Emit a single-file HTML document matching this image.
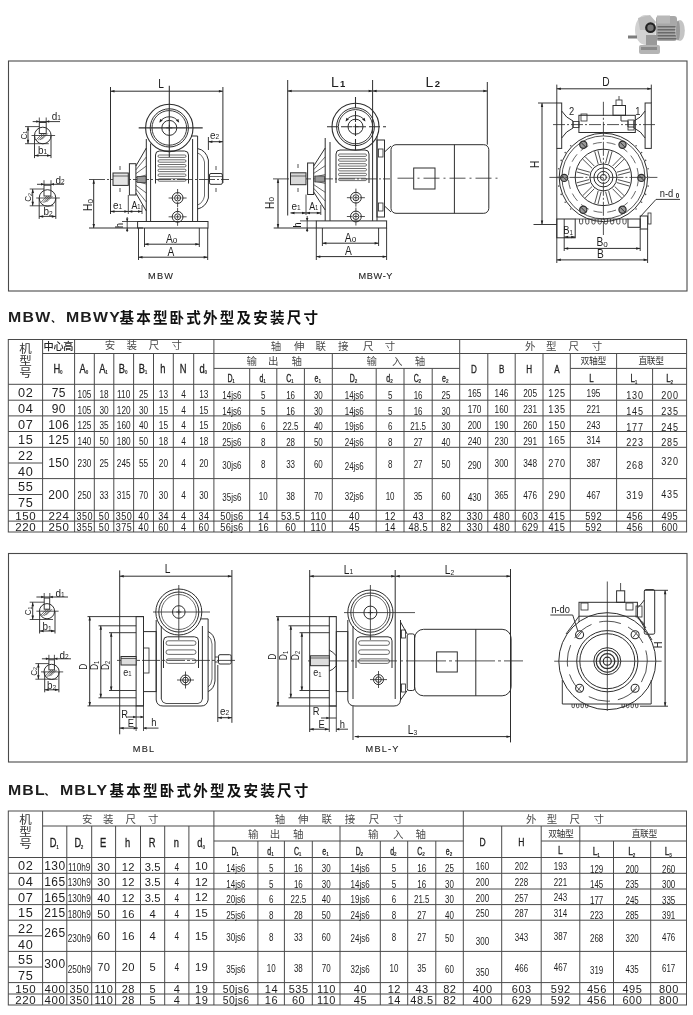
<!DOCTYPE html>
<html><head><meta charset="utf-8"><title>MBW MBL</title>
<style>
html,body{margin:0;padding:0;background:#fff}
svg{display:block;filter:blur(0.4px)}
text{font-family:"Liberation Sans","Noto Sans CJK SC",sans-serif;fill:#1e1e1e}
</style></head><body>
<svg width="693" height="1015" viewBox="0 0 693 1015">
<defs>
<filter id="blur1" x="-20%" y="-20%" width="140%" height="140%"><feGaussianBlur stdDeviation="0.7"/></filter>
</defs>
<rect width="693" height="1015" fill="#fff"/>
<rect x="8.5" y="61" width="678.5" height="230" fill="none" stroke="#4a4a4a" stroke-width="1.1"/>
<rect x="8.5" y="553.5" width="678.5" height="208.5" fill="none" stroke="#4a4a4a" stroke-width="1.1"/>
<text transform="translate(8.00,321.80) scale(1.15,1)" font-size="13.8" text-anchor="start" letter-spacing="1.1" font-weight="bold" fill="#111">MBW</text>
<text transform="translate(65.90,321.80) scale(1.15,1)" font-size="13.8" text-anchor="start" letter-spacing="1.1" font-weight="bold" fill="#111">MBWY</text>
<text x="119.40" y="322.75" font-size="14.6" font-weight="bold" letter-spacing="2.15" style="fill:#111">基本型卧式外型及安装尺寸</text>
<text x="51.00" y="322.00" font-size="10" font-weight="bold" style="fill:#111">、</text>
<text transform="translate(7.90,794.60) scale(1.15,1)" font-size="13.8" text-anchor="start" letter-spacing="1.1" font-weight="bold" fill="#111">MBL</text>
<text transform="translate(59.90,794.60) scale(1.15,1)" font-size="13.8" text-anchor="start" letter-spacing="1.1" font-weight="bold" fill="#111">MBLY</text>
<text x="109.60" y="795.55" font-size="14.6" font-weight="bold" letter-spacing="2.15" style="fill:#111">基本型卧式外型及安装尺寸</text>
<text x="44.50" y="794.80" font-size="10" font-weight="bold" style="fill:#111">、</text>
<rect x="8.3" y="339.5" width="678.3000000000001" height="192.5" fill="none" stroke="#4a4a4a" stroke-width="1"/>
<path d="M42.6 353.5H686.6" stroke="#4a4a4a" stroke-width="1" fill="none"/>
<path d="M213.9 368.4H459.7" stroke="#4a4a4a" stroke-width="1" fill="none"/>
<path d="M570.3 368.4H686.6" stroke="#4a4a4a" stroke-width="1" fill="none"/>
<path d="M8.3 384.3H686.6" stroke="#4a4a4a" stroke-width="1" fill="none"/>
<path d="M8.3 400.2H686.6" stroke="#4a4a4a" stroke-width="1" fill="none"/>
<path d="M8.3 415.9H686.6" stroke="#4a4a4a" stroke-width="1" fill="none"/>
<path d="M8.3 431.5H686.6" stroke="#4a4a4a" stroke-width="1" fill="none"/>
<path d="M8.3 447.3H686.6" stroke="#4a4a4a" stroke-width="1" fill="none"/>
<path d="M8.3 463.0H42.6" stroke="#4a4a4a" stroke-width="1" fill="none"/>
<path d="M8.3 478.6H686.6" stroke="#4a4a4a" stroke-width="1" fill="none"/>
<path d="M8.3 494.5H42.6" stroke="#4a4a4a" stroke-width="1" fill="none"/>
<path d="M8.3 510.3H686.6" stroke="#4a4a4a" stroke-width="1" fill="none"/>
<path d="M8.3 521.1H686.6" stroke="#4a4a4a" stroke-width="1" fill="none"/>
<path d="M42.6 339.5V532.0" stroke="#4a4a4a" stroke-width="1" fill="none"/>
<path d="M74.6 339.5V532.0" stroke="#4a4a4a" stroke-width="1" fill="none"/>
<path d="M94.3 353.5V532.0" stroke="#4a4a4a" stroke-width="1" fill="none"/>
<path d="M113.8 353.5V532.0" stroke="#4a4a4a" stroke-width="1" fill="none"/>
<path d="M133.6 353.5V532.0" stroke="#4a4a4a" stroke-width="1" fill="none"/>
<path d="M153.5 353.5V532.0" stroke="#4a4a4a" stroke-width="1" fill="none"/>
<path d="M173.3 353.5V532.0" stroke="#4a4a4a" stroke-width="1" fill="none"/>
<path d="M193.7 353.5V532.0" stroke="#4a4a4a" stroke-width="1" fill="none"/>
<path d="M213.9 339.5V532.0" stroke="#4a4a4a" stroke-width="1" fill="none"/>
<path d="M249.7 368.4V532.0" stroke="#4a4a4a" stroke-width="1" fill="none"/>
<path d="M276.8 368.4V532.0" stroke="#4a4a4a" stroke-width="1" fill="none"/>
<path d="M304.4 368.4V532.0" stroke="#4a4a4a" stroke-width="1" fill="none"/>
<path d="M332.3 353.5V532.0" stroke="#4a4a4a" stroke-width="1" fill="none"/>
<path d="M376.2 368.4V532.0" stroke="#4a4a4a" stroke-width="1" fill="none"/>
<path d="M404.0 368.4V532.0" stroke="#4a4a4a" stroke-width="1" fill="none"/>
<path d="M432.2 368.4V532.0" stroke="#4a4a4a" stroke-width="1" fill="none"/>
<path d="M459.7 339.5V532.0" stroke="#4a4a4a" stroke-width="1" fill="none"/>
<path d="M487.8 353.5V532.0" stroke="#4a4a4a" stroke-width="1" fill="none"/>
<path d="M515.2 353.5V532.0" stroke="#4a4a4a" stroke-width="1" fill="none"/>
<path d="M543.0 353.5V532.0" stroke="#4a4a4a" stroke-width="1" fill="none"/>
<path d="M570.3 353.5V532.0" stroke="#4a4a4a" stroke-width="1" fill="none"/>
<path d="M616.6 353.5V532.0" stroke="#4a4a4a" stroke-width="1" fill="none"/>
<path d="M652.6 368.4V532.0" stroke="#4a4a4a" stroke-width="1" fill="none"/>
<text transform="translate(19.15,352.67) scale(1.087,1)" font-size="11.5" style="fill:#333">机</text>
<text transform="translate(19.15,364.97) scale(1.087,1)" font-size="11.5" style="fill:#333">型</text>
<text transform="translate(19.15,376.97) scale(1.087,1)" font-size="11.5" style="fill:#333">号</text>
<text transform="translate(43.50,349.80) scale(1.02,1)" font-size="10" font-weight="500" style="fill:#222">中</text>
<text transform="translate(53.40,349.80) scale(1.02,1)" font-size="10" font-weight="500" style="fill:#222">心</text>
<text transform="translate(63.30,349.80) scale(1.02,1)" font-size="10" font-weight="500" style="fill:#222">高</text>
<text transform="translate(104.75,349.30) scale(1.05,1)" font-size="10" style="fill:#4a4a4a">安</text>
<text transform="translate(126.45,349.30) scale(1.05,1)" font-size="10" style="fill:#4a4a4a">装</text>
<text transform="translate(148.75,349.30) scale(1.05,1)" font-size="10" style="fill:#4a4a4a">尺</text>
<text transform="translate(171.45,349.30) scale(1.05,1)" font-size="10" style="fill:#4a4a4a">寸</text>
<text transform="translate(270.75,349.80) scale(1.05,1)" font-size="10" style="fill:#4a4a4a">轴</text>
<text transform="translate(294.05,349.80) scale(1.05,1)" font-size="10" style="fill:#4a4a4a">伸</text>
<text transform="translate(315.45,349.80) scale(1.05,1)" font-size="10" style="fill:#4a4a4a">联</text>
<text transform="translate(338.05,349.80) scale(1.05,1)" font-size="10" style="fill:#4a4a4a">接</text>
<text transform="translate(363.05,349.80) scale(1.05,1)" font-size="10" style="fill:#4a4a4a">尺</text>
<text transform="translate(384.75,349.80) scale(1.05,1)" font-size="10" style="fill:#4a4a4a">寸</text>
<text transform="translate(246.45,364.80) scale(1.05,1)" font-size="10" style="fill:#4a4a4a">输</text>
<text transform="translate(268.05,364.80) scale(1.05,1)" font-size="10" style="fill:#4a4a4a">出</text>
<text transform="translate(291.45,364.80) scale(1.05,1)" font-size="10" style="fill:#4a4a4a">轴</text>
<text transform="translate(366.45,364.80) scale(1.05,1)" font-size="10" style="fill:#4a4a4a">输</text>
<text transform="translate(392.05,364.80) scale(1.05,1)" font-size="10" style="fill:#4a4a4a">入</text>
<text transform="translate(414.75,364.80) scale(1.05,1)" font-size="10" style="fill:#4a4a4a">轴</text>
<text transform="translate(525.05,349.80) scale(1.05,1)" font-size="10" style="fill:#4a4a4a">外</text>
<text transform="translate(546.05,349.80) scale(1.05,1)" font-size="10" style="fill:#4a4a4a">型</text>
<text transform="translate(568.45,349.80) scale(1.05,1)" font-size="10" style="fill:#4a4a4a">尺</text>
<text transform="translate(591.75,349.80) scale(1.05,1)" font-size="10" style="fill:#4a4a4a">寸</text>
<text transform="translate(580.60,363.91) scale(0.926,1)" font-size="9.5" style="fill:#333">双</text>
<text transform="translate(589.00,363.91) scale(0.926,1)" font-size="9.5" style="fill:#333">轴</text>
<text transform="translate(597.40,363.91) scale(0.926,1)" font-size="9.5" style="fill:#333">型</text>
<text transform="translate(638.40,363.91) scale(0.926,1)" font-size="9.5" style="fill:#333">直</text>
<text transform="translate(646.80,363.91) scale(0.926,1)" font-size="9.5" style="fill:#333">联</text>
<text transform="translate(655.20,363.91) scale(0.926,1)" font-size="9.5" style="fill:#333">型</text>
<text transform="translate(56.80,373.10) scale(0.78,1)" font-size="12" text-anchor="middle" stroke="#1e1e1e" stroke-width="0.3">H</text>
<text transform="translate(61.18,374.40) scale(0.9,1)" font-size="5.2" text-anchor="middle" font-weight="bold">0</text>
<text transform="translate(82.65,373.10) scale(0.78,1)" font-size="12" text-anchor="middle" stroke="#1e1e1e" stroke-width="0.3">A</text>
<text transform="translate(87.03,374.40) scale(0.9,1)" font-size="5.2" text-anchor="middle" font-weight="bold">0</text>
<text transform="translate(102.25,373.10) scale(0.78,1)" font-size="12" text-anchor="middle" stroke="#1e1e1e" stroke-width="0.3">A</text>
<text transform="translate(106.63,374.40) scale(0.9,1)" font-size="5.2" text-anchor="middle" font-weight="bold">1</text>
<text transform="translate(121.90,373.10) scale(0.78,1)" font-size="12" text-anchor="middle" stroke="#1e1e1e" stroke-width="0.3">B</text>
<text transform="translate(126.28,374.40) scale(0.9,1)" font-size="5.2" text-anchor="middle" font-weight="bold">0</text>
<text transform="translate(141.75,373.10) scale(0.78,1)" font-size="12" text-anchor="middle" stroke="#1e1e1e" stroke-width="0.3">B</text>
<text transform="translate(146.13,374.40) scale(0.9,1)" font-size="5.2" text-anchor="middle" font-weight="bold">1</text>
<text transform="translate(162.90,373.10) scale(0.78,1)" font-size="12" text-anchor="middle" stroke="#1e1e1e" stroke-width="0.3">h</text>
<text transform="translate(183.00,373.10) scale(0.78,1)" font-size="12" text-anchor="middle" stroke="#1e1e1e" stroke-width="0.3">N</text>
<text transform="translate(202.00,373.10) scale(0.78,1)" font-size="12" text-anchor="middle" stroke="#1e1e1e" stroke-width="0.3">d</text>
<text transform="translate(205.90,374.40) scale(0.9,1)" font-size="5.2" text-anchor="middle" font-weight="bold">0</text>
<text transform="translate(229.90,381.90) scale(0.7,1)" font-size="10" text-anchor="middle" stroke="#1e1e1e" stroke-width="0.3">D</text>
<text transform="translate(233.53,383.20) scale(0.9,1)" font-size="5.2" text-anchor="middle" font-weight="bold">1</text>
<text transform="translate(261.35,381.90) scale(0.7,1)" font-size="10" text-anchor="middle" stroke="#1e1e1e" stroke-width="0.3">d</text>
<text transform="translate(264.63,383.20) scale(0.9,1)" font-size="5.2" text-anchor="middle" font-weight="bold">1</text>
<text transform="translate(288.70,381.90) scale(0.7,1)" font-size="10" text-anchor="middle" stroke="#1e1e1e" stroke-width="0.3">C</text>
<text transform="translate(292.33,383.20) scale(0.9,1)" font-size="5.2" text-anchor="middle" font-weight="bold">1</text>
<text transform="translate(316.45,381.90) scale(0.7,1)" font-size="10" text-anchor="middle" stroke="#1e1e1e" stroke-width="0.3">e</text>
<text transform="translate(319.73,383.20) scale(0.9,1)" font-size="5.2" text-anchor="middle" font-weight="bold">1</text>
<text transform="translate(352.35,381.90) scale(0.7,1)" font-size="10" text-anchor="middle" stroke="#1e1e1e" stroke-width="0.3">D</text>
<text transform="translate(355.98,383.20) scale(0.9,1)" font-size="5.2" text-anchor="middle" font-weight="bold">2</text>
<text transform="translate(388.20,381.90) scale(0.7,1)" font-size="10" text-anchor="middle" stroke="#1e1e1e" stroke-width="0.3">d</text>
<text transform="translate(391.48,383.20) scale(0.9,1)" font-size="5.2" text-anchor="middle" font-weight="bold">2</text>
<text transform="translate(416.20,381.90) scale(0.7,1)" font-size="10" text-anchor="middle" stroke="#1e1e1e" stroke-width="0.3">C</text>
<text transform="translate(419.83,383.20) scale(0.9,1)" font-size="5.2" text-anchor="middle" font-weight="bold">2</text>
<text transform="translate(444.05,381.90) scale(0.7,1)" font-size="10" text-anchor="middle" stroke="#1e1e1e" stroke-width="0.3">e</text>
<text transform="translate(447.33,383.20) scale(0.9,1)" font-size="5.2" text-anchor="middle" font-weight="bold">2</text>
<text transform="translate(473.95,372.50) scale(0.74,1)" font-size="11" text-anchor="middle" stroke="#1e1e1e" stroke-width="0.3">D</text>
<text transform="translate(501.70,372.50) scale(0.74,1)" font-size="11" text-anchor="middle" stroke="#1e1e1e" stroke-width="0.3">B</text>
<text transform="translate(529.30,372.50) scale(0.74,1)" font-size="11" text-anchor="middle" stroke="#1e1e1e" stroke-width="0.3">H</text>
<text transform="translate(556.85,372.50) scale(0.74,1)" font-size="11" text-anchor="middle" stroke="#1e1e1e" stroke-width="0.3">A</text>
<text transform="translate(591.35,381.90) scale(0.76,1)" font-size="10.5" text-anchor="middle" stroke="#1e1e1e" stroke-width="0.3">L</text>
<text transform="translate(632.60,382.40) scale(0.76,1)" font-size="10.5" text-anchor="middle" stroke="#1e1e1e" stroke-width="0.3">L</text>
<text transform="translate(635.94,383.70) scale(0.9,1)" font-size="5.2" text-anchor="middle" font-weight="bold">1</text>
<text transform="translate(668.40,382.40) scale(0.76,1)" font-size="10.5" text-anchor="middle" stroke="#1e1e1e" stroke-width="0.3">L</text>
<text transform="translate(671.74,383.70) scale(0.9,1)" font-size="5.2" text-anchor="middle" font-weight="bold">2</text>
<text transform="translate(25.45,397.20) scale(1.06,1)" font-size="12" text-anchor="middle" letter-spacing="0.7" dx="0.35">02</text>
<text transform="translate(58.60,397.20)" font-size="12" text-anchor="middle" letter-spacing="0.4" dx="0.20">75</text>
<text transform="translate(84.45,397.70) scale(0.72,1)" font-size="11.5" text-anchor="middle">105</text>
<text transform="translate(104.05,397.70) scale(0.72,1)" font-size="11.5" text-anchor="middle">18</text>
<text transform="translate(123.70,397.70) scale(0.72,1)" font-size="11.5" text-anchor="middle">110</text>
<text transform="translate(143.55,397.70) scale(0.72,1)" font-size="11.5" text-anchor="middle">25</text>
<text transform="translate(163.40,397.70) scale(0.72,1)" font-size="11.5" text-anchor="middle">13</text>
<text transform="translate(183.50,397.70) scale(0.72,1)" font-size="11.5" text-anchor="middle">4</text>
<text transform="translate(203.80,397.70) scale(0.72,1)" font-size="11.5" text-anchor="middle">13</text>
<text transform="translate(231.80,398.60) scale(0.8,1)" font-size="10" text-anchor="middle">14js6</text>
<text transform="translate(263.25,398.60) scale(0.8,1)" font-size="10" text-anchor="middle">5</text>
<text transform="translate(290.60,398.60) scale(0.8,1)" font-size="10" text-anchor="middle">16</text>
<text transform="translate(318.35,398.60) scale(0.8,1)" font-size="10" text-anchor="middle">30</text>
<text transform="translate(354.25,398.60) scale(0.8,1)" font-size="10" text-anchor="middle">14js6</text>
<text transform="translate(390.10,398.60) scale(0.8,1)" font-size="10" text-anchor="middle">5</text>
<text transform="translate(418.10,398.60) scale(0.8,1)" font-size="10" text-anchor="middle">16</text>
<text transform="translate(445.95,398.60) scale(0.8,1)" font-size="10" text-anchor="middle">25</text>
<text transform="translate(474.55,397.30) scale(0.72,1)" font-size="11.5" text-anchor="middle">165</text>
<text transform="translate(501.50,397.30) scale(0.72,1)" font-size="11.5" text-anchor="middle">146</text>
<text transform="translate(530.10,397.30) scale(0.72,1)" font-size="11.5" text-anchor="middle">205</text>
<text transform="translate(556.65,397.20) scale(0.84,1)" font-size="10.8" text-anchor="middle" letter-spacing="0.9" dx="0.45">125</text>
<text transform="translate(593.45,397.20) scale(0.72,1)" font-size="11.5" text-anchor="middle">195</text>
<text transform="translate(634.60,398.90) scale(0.84,1)" font-size="10.8" text-anchor="middle" letter-spacing="0.9" dx="0.45">130</text>
<text transform="translate(669.60,398.90) scale(0.84,1)" font-size="10.8" text-anchor="middle" letter-spacing="0.9" dx="0.45">200</text>
<text transform="translate(25.45,413.20) scale(1.06,1)" font-size="12" text-anchor="middle" letter-spacing="0.7" dx="0.35">04</text>
<text transform="translate(58.60,413.20)" font-size="12" text-anchor="middle" letter-spacing="0.4" dx="0.20">90</text>
<text transform="translate(84.45,413.70) scale(0.72,1)" font-size="11.5" text-anchor="middle">105</text>
<text transform="translate(104.05,413.70) scale(0.72,1)" font-size="11.5" text-anchor="middle">30</text>
<text transform="translate(123.70,413.70) scale(0.72,1)" font-size="11.5" text-anchor="middle">120</text>
<text transform="translate(143.55,413.70) scale(0.72,1)" font-size="11.5" text-anchor="middle">30</text>
<text transform="translate(163.40,413.70) scale(0.72,1)" font-size="11.5" text-anchor="middle">15</text>
<text transform="translate(183.50,413.70) scale(0.72,1)" font-size="11.5" text-anchor="middle">4</text>
<text transform="translate(203.80,413.70) scale(0.72,1)" font-size="11.5" text-anchor="middle">15</text>
<text transform="translate(231.80,414.60) scale(0.8,1)" font-size="10" text-anchor="middle">14js6</text>
<text transform="translate(263.25,414.60) scale(0.8,1)" font-size="10" text-anchor="middle">5</text>
<text transform="translate(290.60,414.60) scale(0.8,1)" font-size="10" text-anchor="middle">16</text>
<text transform="translate(318.35,414.60) scale(0.8,1)" font-size="10" text-anchor="middle">30</text>
<text transform="translate(354.25,414.60) scale(0.8,1)" font-size="10" text-anchor="middle">14js6</text>
<text transform="translate(390.10,414.60) scale(0.8,1)" font-size="10" text-anchor="middle">5</text>
<text transform="translate(418.10,414.60) scale(0.8,1)" font-size="10" text-anchor="middle">16</text>
<text transform="translate(445.95,414.60) scale(0.8,1)" font-size="10" text-anchor="middle">30</text>
<text transform="translate(474.55,413.30) scale(0.72,1)" font-size="11.5" text-anchor="middle">170</text>
<text transform="translate(501.50,413.30) scale(0.72,1)" font-size="11.5" text-anchor="middle">160</text>
<text transform="translate(530.10,413.30) scale(0.72,1)" font-size="11.5" text-anchor="middle">231</text>
<text transform="translate(556.65,413.20) scale(0.84,1)" font-size="10.8" text-anchor="middle" letter-spacing="0.9" dx="0.45">135</text>
<text transform="translate(593.45,413.20) scale(0.72,1)" font-size="11.5" text-anchor="middle">221</text>
<text transform="translate(634.60,414.90) scale(0.84,1)" font-size="10.8" text-anchor="middle" letter-spacing="0.9" dx="0.45">145</text>
<text transform="translate(669.60,414.90) scale(0.84,1)" font-size="10.8" text-anchor="middle" letter-spacing="0.9" dx="0.45">235</text>
<text transform="translate(25.45,428.90) scale(1.06,1)" font-size="12" text-anchor="middle" letter-spacing="0.7" dx="0.35">07</text>
<text transform="translate(58.60,428.90)" font-size="12" text-anchor="middle" letter-spacing="0.4" dx="0.20">106</text>
<text transform="translate(84.45,429.40) scale(0.72,1)" font-size="11.5" text-anchor="middle">125</text>
<text transform="translate(104.05,429.40) scale(0.72,1)" font-size="11.5" text-anchor="middle">35</text>
<text transform="translate(123.70,429.40) scale(0.72,1)" font-size="11.5" text-anchor="middle">160</text>
<text transform="translate(143.55,429.40) scale(0.72,1)" font-size="11.5" text-anchor="middle">40</text>
<text transform="translate(163.40,429.40) scale(0.72,1)" font-size="11.5" text-anchor="middle">15</text>
<text transform="translate(183.50,429.40) scale(0.72,1)" font-size="11.5" text-anchor="middle">4</text>
<text transform="translate(203.80,429.40) scale(0.72,1)" font-size="11.5" text-anchor="middle">15</text>
<text transform="translate(231.80,430.30) scale(0.8,1)" font-size="10" text-anchor="middle">20js6</text>
<text transform="translate(263.25,430.30) scale(0.8,1)" font-size="10" text-anchor="middle">6</text>
<text transform="translate(290.60,430.30) scale(0.8,1)" font-size="10" text-anchor="middle">22.5</text>
<text transform="translate(318.35,430.30) scale(0.8,1)" font-size="10" text-anchor="middle">40</text>
<text transform="translate(354.25,430.30) scale(0.8,1)" font-size="10" text-anchor="middle">19js6</text>
<text transform="translate(390.10,430.30) scale(0.8,1)" font-size="10" text-anchor="middle">6</text>
<text transform="translate(418.10,430.30) scale(0.8,1)" font-size="10" text-anchor="middle">21.5</text>
<text transform="translate(445.95,430.30) scale(0.8,1)" font-size="10" text-anchor="middle">30</text>
<text transform="translate(474.55,429.00) scale(0.72,1)" font-size="11.5" text-anchor="middle">200</text>
<text transform="translate(501.50,429.00) scale(0.72,1)" font-size="11.5" text-anchor="middle">190</text>
<text transform="translate(530.10,429.00) scale(0.72,1)" font-size="11.5" text-anchor="middle">260</text>
<text transform="translate(556.65,428.90) scale(0.84,1)" font-size="10.8" text-anchor="middle" letter-spacing="0.9" dx="0.45">150</text>
<text transform="translate(593.45,428.90) scale(0.72,1)" font-size="11.5" text-anchor="middle">243</text>
<text transform="translate(634.60,430.60) scale(0.84,1)" font-size="10.8" text-anchor="middle" letter-spacing="0.9" dx="0.45">177</text>
<text transform="translate(669.60,430.60) scale(0.84,1)" font-size="10.8" text-anchor="middle" letter-spacing="0.9" dx="0.45">245</text>
<text transform="translate(25.45,444.40) scale(1.06,1)" font-size="12" text-anchor="middle" letter-spacing="0.7" dx="0.35">15</text>
<text transform="translate(58.60,444.40)" font-size="12" text-anchor="middle" letter-spacing="0.4" dx="0.20">125</text>
<text transform="translate(84.45,444.90) scale(0.72,1)" font-size="11.5" text-anchor="middle">140</text>
<text transform="translate(104.05,444.90) scale(0.72,1)" font-size="11.5" text-anchor="middle">50</text>
<text transform="translate(123.70,444.90) scale(0.72,1)" font-size="11.5" text-anchor="middle">180</text>
<text transform="translate(143.55,444.90) scale(0.72,1)" font-size="11.5" text-anchor="middle">50</text>
<text transform="translate(163.40,444.90) scale(0.72,1)" font-size="11.5" text-anchor="middle">18</text>
<text transform="translate(183.50,444.90) scale(0.72,1)" font-size="11.5" text-anchor="middle">4</text>
<text transform="translate(203.80,444.90) scale(0.72,1)" font-size="11.5" text-anchor="middle">18</text>
<text transform="translate(231.80,445.80) scale(0.8,1)" font-size="10" text-anchor="middle">25js6</text>
<text transform="translate(263.25,445.80) scale(0.8,1)" font-size="10" text-anchor="middle">8</text>
<text transform="translate(290.60,445.80) scale(0.8,1)" font-size="10" text-anchor="middle">28</text>
<text transform="translate(318.35,445.80) scale(0.8,1)" font-size="10" text-anchor="middle">50</text>
<text transform="translate(354.25,445.80) scale(0.8,1)" font-size="10" text-anchor="middle">24js6</text>
<text transform="translate(390.10,445.80) scale(0.8,1)" font-size="10" text-anchor="middle">8</text>
<text transform="translate(418.10,445.80) scale(0.8,1)" font-size="10" text-anchor="middle">27</text>
<text transform="translate(445.95,445.80) scale(0.8,1)" font-size="10" text-anchor="middle">40</text>
<text transform="translate(474.55,444.50) scale(0.72,1)" font-size="11.5" text-anchor="middle">240</text>
<text transform="translate(501.50,444.50) scale(0.72,1)" font-size="11.5" text-anchor="middle">230</text>
<text transform="translate(530.10,444.50) scale(0.72,1)" font-size="11.5" text-anchor="middle">291</text>
<text transform="translate(556.65,444.40) scale(0.84,1)" font-size="10.8" text-anchor="middle" letter-spacing="0.9" dx="0.45">165</text>
<text transform="translate(593.45,444.40) scale(0.72,1)" font-size="11.5" text-anchor="middle">314</text>
<text transform="translate(634.60,446.10) scale(0.84,1)" font-size="10.8" text-anchor="middle" letter-spacing="0.9" dx="0.45">223</text>
<text transform="translate(669.60,446.10) scale(0.84,1)" font-size="10.8" text-anchor="middle" letter-spacing="0.9" dx="0.45">285</text>
<text transform="translate(25.45,460.00) scale(1.06,1)" font-size="12" text-anchor="middle" letter-spacing="0.7" dx="0.35">22</text>
<text transform="translate(25.45,475.85) scale(1.06,1)" font-size="12" text-anchor="middle" letter-spacing="0.7" dx="0.35">40</text>
<text transform="translate(58.60,467.25)" font-size="12" text-anchor="middle" letter-spacing="0.4" dx="0.20">150</text>
<text transform="translate(84.45,467.25) scale(0.72,1)" font-size="11.5" text-anchor="middle">230</text>
<text transform="translate(104.05,467.25) scale(0.72,1)" font-size="11.5" text-anchor="middle">25</text>
<text transform="translate(123.70,467.25) scale(0.72,1)" font-size="11.5" text-anchor="middle">245</text>
<text transform="translate(143.55,467.25) scale(0.72,1)" font-size="11.5" text-anchor="middle">55</text>
<text transform="translate(163.40,467.25) scale(0.72,1)" font-size="11.5" text-anchor="middle">20</text>
<text transform="translate(183.50,467.25) scale(0.72,1)" font-size="11.5" text-anchor="middle">4</text>
<text transform="translate(203.80,467.25) scale(0.72,1)" font-size="11.5" text-anchor="middle">20</text>
<text transform="translate(231.80,468.75) scale(0.8,1)" font-size="10" text-anchor="middle">30js6</text>
<text transform="translate(263.25,468.25) scale(0.8,1)" font-size="10" text-anchor="middle">8</text>
<text transform="translate(290.60,468.25) scale(0.8,1)" font-size="10" text-anchor="middle">33</text>
<text transform="translate(318.35,468.25) scale(0.8,1)" font-size="10" text-anchor="middle">60</text>
<text transform="translate(354.25,469.75) scale(0.8,1)" font-size="10" text-anchor="middle">24js6</text>
<text transform="translate(390.10,468.25) scale(0.8,1)" font-size="10" text-anchor="middle">8</text>
<text transform="translate(418.10,468.25) scale(0.8,1)" font-size="10" text-anchor="middle">27</text>
<text transform="translate(445.95,468.25) scale(0.8,1)" font-size="10" text-anchor="middle">50</text>
<text transform="translate(474.55,469.25) scale(0.72,1)" font-size="11.5" text-anchor="middle">290</text>
<text transform="translate(501.50,467.25) scale(0.72,1)" font-size="11.5" text-anchor="middle">300</text>
<text transform="translate(530.10,467.25) scale(0.72,1)" font-size="11.5" text-anchor="middle">348</text>
<text transform="translate(556.65,467.25) scale(0.84,1)" font-size="10.8" text-anchor="middle" letter-spacing="0.9" dx="0.45">270</text>
<text transform="translate(593.45,467.25) scale(0.72,1)" font-size="11.5" text-anchor="middle">387</text>
<text transform="translate(634.60,468.75) scale(0.84,1)" font-size="10.8" text-anchor="middle" letter-spacing="0.9" dx="0.45">268</text>
<text transform="translate(669.60,464.75) scale(0.84,1)" font-size="10.8" text-anchor="middle" letter-spacing="0.9" dx="0.45">320</text>
<text transform="translate(25.45,491.30) scale(1.06,1)" font-size="12" text-anchor="middle" letter-spacing="0.7" dx="0.35">55</text>
<text transform="translate(25.45,507.30) scale(1.06,1)" font-size="12" text-anchor="middle" letter-spacing="0.7" dx="0.35">75</text>
<text transform="translate(58.60,498.70)" font-size="12" text-anchor="middle" letter-spacing="0.4" dx="0.20">200</text>
<text transform="translate(84.45,498.70) scale(0.72,1)" font-size="11.5" text-anchor="middle">250</text>
<text transform="translate(104.05,498.70) scale(0.72,1)" font-size="11.5" text-anchor="middle">33</text>
<text transform="translate(123.70,498.70) scale(0.72,1)" font-size="11.5" text-anchor="middle">315</text>
<text transform="translate(143.55,498.70) scale(0.72,1)" font-size="11.5" text-anchor="middle">70</text>
<text transform="translate(163.40,498.70) scale(0.72,1)" font-size="11.5" text-anchor="middle">30</text>
<text transform="translate(183.50,498.70) scale(0.72,1)" font-size="11.5" text-anchor="middle">4</text>
<text transform="translate(203.80,498.70) scale(0.72,1)" font-size="11.5" text-anchor="middle">30</text>
<text transform="translate(231.80,500.70) scale(0.8,1)" font-size="10" text-anchor="middle">35js6</text>
<text transform="translate(263.25,499.70) scale(0.8,1)" font-size="10" text-anchor="middle">10</text>
<text transform="translate(290.60,499.70) scale(0.8,1)" font-size="10" text-anchor="middle">38</text>
<text transform="translate(318.35,499.70) scale(0.8,1)" font-size="10" text-anchor="middle">70</text>
<text transform="translate(354.25,500.20) scale(0.8,1)" font-size="10" text-anchor="middle">32js6</text>
<text transform="translate(390.10,499.70) scale(0.8,1)" font-size="10" text-anchor="middle">10</text>
<text transform="translate(418.10,499.70) scale(0.8,1)" font-size="10" text-anchor="middle">35</text>
<text transform="translate(445.95,499.70) scale(0.8,1)" font-size="10" text-anchor="middle">60</text>
<text transform="translate(474.55,501.20) scale(0.72,1)" font-size="11.5" text-anchor="middle">430</text>
<text transform="translate(501.50,498.70) scale(0.72,1)" font-size="11.5" text-anchor="middle">365</text>
<text transform="translate(530.10,498.70) scale(0.72,1)" font-size="11.5" text-anchor="middle">476</text>
<text transform="translate(556.65,498.70) scale(0.84,1)" font-size="10.8" text-anchor="middle" letter-spacing="0.9" dx="0.45">290</text>
<text transform="translate(593.45,498.70) scale(0.72,1)" font-size="11.5" text-anchor="middle">467</text>
<text transform="translate(634.60,499.20) scale(0.84,1)" font-size="10.8" text-anchor="middle" letter-spacing="0.9" dx="0.45">319</text>
<text transform="translate(669.60,497.70) scale(0.84,1)" font-size="10.8" text-anchor="middle" letter-spacing="0.9" dx="0.45">435</text>
<text transform="translate(25.45,520.00) scale(1.02,1)" font-size="11.3" text-anchor="middle" letter-spacing="0.6" dx="0.30">150</text>
<text transform="translate(58.60,520.00) scale(1.02,1)" font-size="11.3" text-anchor="middle" letter-spacing="0.6" dx="0.30">224</text>
<text transform="translate(84.45,520.00) scale(0.84,1)" font-size="10.8" text-anchor="middle" letter-spacing="0.5" dx="0.25">350</text>
<text transform="translate(104.05,520.00) scale(0.84,1)" font-size="10.8" text-anchor="middle" letter-spacing="0.5" dx="0.25">50</text>
<text transform="translate(123.70,520.00) scale(0.84,1)" font-size="10.8" text-anchor="middle" letter-spacing="0.5" dx="0.25">350</text>
<text transform="translate(143.55,520.00) scale(0.84,1)" font-size="10.8" text-anchor="middle" letter-spacing="0.5" dx="0.25">40</text>
<text transform="translate(163.40,520.00) scale(0.84,1)" font-size="10.8" text-anchor="middle" letter-spacing="0.5" dx="0.25">34</text>
<text transform="translate(183.50,520.00) scale(0.84,1)" font-size="10.8" text-anchor="middle" letter-spacing="0.5" dx="0.25">4</text>
<text transform="translate(203.80,520.00) scale(0.84,1)" font-size="10.8" text-anchor="middle" letter-spacing="0.5" dx="0.25">34</text>
<text transform="translate(231.80,520.00) scale(0.86,1)" font-size="10.8" text-anchor="middle" letter-spacing="0.2" dx="0.10">50js6</text>
<text transform="translate(263.25,520.00) scale(0.86,1)" font-size="10.8" text-anchor="middle" letter-spacing="0.5" dx="0.25">14</text>
<text transform="translate(290.60,520.00) scale(0.86,1)" font-size="10.8" text-anchor="middle" letter-spacing="0.5" dx="0.25">53.5</text>
<text transform="translate(318.35,520.00) scale(0.86,1)" font-size="10.8" text-anchor="middle" letter-spacing="0.5" dx="0.25">110</text>
<text transform="translate(354.25,520.00) scale(0.86,1)" font-size="10.8" text-anchor="middle" letter-spacing="0.5" dx="0.25">40</text>
<text transform="translate(390.10,520.00) scale(0.86,1)" font-size="10.8" text-anchor="middle" letter-spacing="0.5" dx="0.25">12</text>
<text transform="translate(418.10,520.00) scale(0.86,1)" font-size="10.8" text-anchor="middle" letter-spacing="0.5" dx="0.25">43</text>
<text transform="translate(445.95,520.00) scale(0.86,1)" font-size="10.8" text-anchor="middle" letter-spacing="0.5" dx="0.25">82</text>
<text transform="translate(474.55,520.00) scale(0.86,1)" font-size="10.8" text-anchor="middle" letter-spacing="0.5" dx="0.25">330</text>
<text transform="translate(501.50,520.00) scale(0.86,1)" font-size="10.8" text-anchor="middle" letter-spacing="0.5" dx="0.25">480</text>
<text transform="translate(530.10,520.00) scale(0.86,1)" font-size="10.8" text-anchor="middle" letter-spacing="0.5" dx="0.25">603</text>
<text transform="translate(556.65,520.00) scale(0.86,1)" font-size="10.8" text-anchor="middle" letter-spacing="0.5" dx="0.25">415</text>
<text transform="translate(593.45,520.00) scale(0.86,1)" font-size="10.8" text-anchor="middle" letter-spacing="0.5" dx="0.25">592</text>
<text transform="translate(634.60,520.00) scale(0.86,1)" font-size="10.8" text-anchor="middle" letter-spacing="0.5" dx="0.25">456</text>
<text transform="translate(669.60,520.00) scale(0.86,1)" font-size="10.8" text-anchor="middle" letter-spacing="0.5" dx="0.25">495</text>
<text transform="translate(25.45,530.90) scale(1.02,1)" font-size="11.3" text-anchor="middle" letter-spacing="0.6" dx="0.30">220</text>
<text transform="translate(58.60,530.90) scale(1.02,1)" font-size="11.3" text-anchor="middle" letter-spacing="0.6" dx="0.30">250</text>
<text transform="translate(84.45,530.90) scale(0.84,1)" font-size="10.8" text-anchor="middle" letter-spacing="0.5" dx="0.25">355</text>
<text transform="translate(104.05,530.90) scale(0.84,1)" font-size="10.8" text-anchor="middle" letter-spacing="0.5" dx="0.25">50</text>
<text transform="translate(123.70,530.90) scale(0.84,1)" font-size="10.8" text-anchor="middle" letter-spacing="0.5" dx="0.25">375</text>
<text transform="translate(143.55,530.90) scale(0.84,1)" font-size="10.8" text-anchor="middle" letter-spacing="0.5" dx="0.25">40</text>
<text transform="translate(163.40,530.90) scale(0.84,1)" font-size="10.8" text-anchor="middle" letter-spacing="0.5" dx="0.25">60</text>
<text transform="translate(183.50,530.90) scale(0.84,1)" font-size="10.8" text-anchor="middle" letter-spacing="0.5" dx="0.25">4</text>
<text transform="translate(203.80,530.90) scale(0.84,1)" font-size="10.8" text-anchor="middle" letter-spacing="0.5" dx="0.25">60</text>
<text transform="translate(231.80,530.90) scale(0.86,1)" font-size="10.8" text-anchor="middle" letter-spacing="0.2" dx="0.10">56js6</text>
<text transform="translate(263.25,530.90) scale(0.86,1)" font-size="10.8" text-anchor="middle" letter-spacing="0.5" dx="0.25">16</text>
<text transform="translate(290.60,530.90) scale(0.86,1)" font-size="10.8" text-anchor="middle" letter-spacing="0.5" dx="0.25">60</text>
<text transform="translate(318.35,530.90) scale(0.86,1)" font-size="10.8" text-anchor="middle" letter-spacing="0.5" dx="0.25">110</text>
<text transform="translate(354.25,530.90) scale(0.86,1)" font-size="10.8" text-anchor="middle" letter-spacing="0.5" dx="0.25">45</text>
<text transform="translate(390.10,530.90) scale(0.86,1)" font-size="10.8" text-anchor="middle" letter-spacing="0.5" dx="0.25">14</text>
<text transform="translate(418.10,530.90) scale(0.86,1)" font-size="10.8" text-anchor="middle" letter-spacing="0.5" dx="0.25">48.5</text>
<text transform="translate(445.95,530.90) scale(0.86,1)" font-size="10.8" text-anchor="middle" letter-spacing="0.5" dx="0.25">82</text>
<text transform="translate(474.55,530.90) scale(0.86,1)" font-size="10.8" text-anchor="middle" letter-spacing="0.5" dx="0.25">330</text>
<text transform="translate(501.50,530.90) scale(0.86,1)" font-size="10.8" text-anchor="middle" letter-spacing="0.5" dx="0.25">480</text>
<text transform="translate(530.10,530.90) scale(0.86,1)" font-size="10.8" text-anchor="middle" letter-spacing="0.5" dx="0.25">629</text>
<text transform="translate(556.65,530.90) scale(0.86,1)" font-size="10.8" text-anchor="middle" letter-spacing="0.5" dx="0.25">415</text>
<text transform="translate(593.45,530.90) scale(0.86,1)" font-size="10.8" text-anchor="middle" letter-spacing="0.5" dx="0.25">592</text>
<text transform="translate(634.60,530.90) scale(0.86,1)" font-size="10.8" text-anchor="middle" letter-spacing="0.5" dx="0.25">456</text>
<text transform="translate(669.60,530.90) scale(0.86,1)" font-size="10.8" text-anchor="middle" letter-spacing="0.5" dx="0.25">600</text>
<rect x="8.3" y="811" width="678.2" height="194" fill="none" stroke="#4a4a4a" stroke-width="1"/>
<path d="M42.6 826.0H686.5" stroke="#4a4a4a" stroke-width="1" fill="none"/>
<path d="M213.9 841.0H463.3" stroke="#4a4a4a" stroke-width="1" fill="none"/>
<path d="M541.2 841.0H686.5" stroke="#4a4a4a" stroke-width="1" fill="none"/>
<path d="M8.3 857.5H686.5" stroke="#4a4a4a" stroke-width="1" fill="none"/>
<path d="M8.3 873.3H686.5" stroke="#4a4a4a" stroke-width="1" fill="none"/>
<path d="M8.3 889.0H686.5" stroke="#4a4a4a" stroke-width="1" fill="none"/>
<path d="M8.3 904.6H686.5" stroke="#4a4a4a" stroke-width="1" fill="none"/>
<path d="M8.3 920.2H686.5" stroke="#4a4a4a" stroke-width="1" fill="none"/>
<path d="M8.3 935.8H42.6" stroke="#4a4a4a" stroke-width="1" fill="none"/>
<path d="M8.3 951.4H686.5" stroke="#4a4a4a" stroke-width="1" fill="none"/>
<path d="M8.3 967.0H42.6" stroke="#4a4a4a" stroke-width="1" fill="none"/>
<path d="M8.3 982.6H686.5" stroke="#4a4a4a" stroke-width="1" fill="none"/>
<path d="M8.3 994.0H686.5" stroke="#4a4a4a" stroke-width="1" fill="none"/>
<path d="M42.6 811.0V1005.0" stroke="#4a4a4a" stroke-width="1" fill="none"/>
<path d="M66.8 826.0V1005.0" stroke="#4a4a4a" stroke-width="1" fill="none"/>
<path d="M91.7 826.0V1005.0" stroke="#4a4a4a" stroke-width="1" fill="none"/>
<path d="M115.6 826.0V1005.0" stroke="#4a4a4a" stroke-width="1" fill="none"/>
<path d="M140.5 826.0V1005.0" stroke="#4a4a4a" stroke-width="1" fill="none"/>
<path d="M164.7 826.0V1005.0" stroke="#4a4a4a" stroke-width="1" fill="none"/>
<path d="M188.9 826.0V1005.0" stroke="#4a4a4a" stroke-width="1" fill="none"/>
<path d="M213.9 811.0V1005.0" stroke="#4a4a4a" stroke-width="1" fill="none"/>
<path d="M257.9 841.0V1005.0" stroke="#4a4a4a" stroke-width="1" fill="none"/>
<path d="M284.4 841.0V1005.0" stroke="#4a4a4a" stroke-width="1" fill="none"/>
<path d="M312.3 841.0V1005.0" stroke="#4a4a4a" stroke-width="1" fill="none"/>
<path d="M340.0 826.0V1005.0" stroke="#4a4a4a" stroke-width="1" fill="none"/>
<path d="M380.3 841.0V1005.0" stroke="#4a4a4a" stroke-width="1" fill="none"/>
<path d="M407.7 841.0V1005.0" stroke="#4a4a4a" stroke-width="1" fill="none"/>
<path d="M435.8 841.0V1005.0" stroke="#4a4a4a" stroke-width="1" fill="none"/>
<path d="M463.3 811.0V1005.0" stroke="#4a4a4a" stroke-width="1" fill="none"/>
<path d="M501.7 826.0V1005.0" stroke="#4a4a4a" stroke-width="1" fill="none"/>
<path d="M541.2 826.0V1005.0" stroke="#4a4a4a" stroke-width="1" fill="none"/>
<path d="M579.8 826.0V1005.0" stroke="#4a4a4a" stroke-width="1" fill="none"/>
<path d="M613.5 841.0V1005.0" stroke="#4a4a4a" stroke-width="1" fill="none"/>
<path d="M650.7 841.0V1005.0" stroke="#4a4a4a" stroke-width="1" fill="none"/>
<text transform="translate(19.15,823.67) scale(1.087,1)" font-size="11.5" style="fill:#333">机</text>
<text transform="translate(19.15,836.37) scale(1.087,1)" font-size="11.5" style="fill:#333">型</text>
<text transform="translate(19.15,848.37) scale(1.087,1)" font-size="11.5" style="fill:#333">号</text>
<text transform="translate(82.05,822.50) scale(1.05,1)" font-size="10" style="fill:#4a4a4a">安</text>
<text transform="translate(103.05,822.50) scale(1.05,1)" font-size="10" style="fill:#4a4a4a">装</text>
<text transform="translate(125.45,822.50) scale(1.05,1)" font-size="10" style="fill:#4a4a4a">尺</text>
<text transform="translate(148.05,822.50) scale(1.05,1)" font-size="10" style="fill:#4a4a4a">寸</text>
<text transform="translate(274.75,822.50) scale(1.05,1)" font-size="10" style="fill:#4a4a4a">轴</text>
<text transform="translate(298.05,822.50) scale(1.05,1)" font-size="10" style="fill:#4a4a4a">伸</text>
<text transform="translate(321.45,822.50) scale(1.05,1)" font-size="10" style="fill:#4a4a4a">联</text>
<text transform="translate(344.75,822.50) scale(1.05,1)" font-size="10" style="fill:#4a4a4a">接</text>
<text transform="translate(368.75,822.50) scale(1.05,1)" font-size="10" style="fill:#4a4a4a">尺</text>
<text transform="translate(393.05,822.50) scale(1.05,1)" font-size="10" style="fill:#4a4a4a">寸</text>
<text transform="translate(248.05,837.80) scale(1.05,1)" font-size="10" style="fill:#4a4a4a">输</text>
<text transform="translate(269.75,837.80) scale(1.05,1)" font-size="10" style="fill:#4a4a4a">出</text>
<text transform="translate(293.05,837.80) scale(1.05,1)" font-size="10" style="fill:#4a4a4a">轴</text>
<text transform="translate(368.05,837.80) scale(1.05,1)" font-size="10" style="fill:#4a4a4a">输</text>
<text transform="translate(393.05,837.80) scale(1.05,1)" font-size="10" style="fill:#4a4a4a">入</text>
<text transform="translate(415.45,837.80) scale(1.05,1)" font-size="10" style="fill:#4a4a4a">轴</text>
<text transform="translate(526.05,822.50) scale(1.05,1)" font-size="10" style="fill:#4a4a4a">外</text>
<text transform="translate(546.75,822.50) scale(1.05,1)" font-size="10" style="fill:#4a4a4a">型</text>
<text transform="translate(569.45,822.50) scale(1.05,1)" font-size="10" style="fill:#4a4a4a">尺</text>
<text transform="translate(593.45,822.50) scale(1.05,1)" font-size="10" style="fill:#4a4a4a">寸</text>
<text transform="translate(548.20,837.31) scale(0.926,1)" font-size="9.5" style="fill:#333">双</text>
<text transform="translate(556.60,837.31) scale(0.926,1)" font-size="9.5" style="fill:#333">轴</text>
<text transform="translate(565.00,837.31) scale(0.926,1)" font-size="9.5" style="fill:#333">型</text>
<text transform="translate(631.70,837.31) scale(0.926,1)" font-size="9.5" style="fill:#333">直</text>
<text transform="translate(640.10,837.31) scale(0.926,1)" font-size="9.5" style="fill:#333">联</text>
<text transform="translate(648.50,837.31) scale(0.926,1)" font-size="9.5" style="fill:#333">型</text>
<text transform="translate(53.20,847.30) scale(0.78,1)" font-size="12" text-anchor="middle" stroke="#1e1e1e" stroke-width="0.3">D</text>
<text transform="translate(57.58,848.60) scale(0.9,1)" font-size="5.2" text-anchor="middle" font-weight="bold">1</text>
<text transform="translate(77.75,847.30) scale(0.78,1)" font-size="12" text-anchor="middle" stroke="#1e1e1e" stroke-width="0.3">D</text>
<text transform="translate(82.13,848.60) scale(0.9,1)" font-size="5.2" text-anchor="middle" font-weight="bold">2</text>
<text transform="translate(103.15,847.30) scale(0.78,1)" font-size="12" text-anchor="middle" stroke="#1e1e1e" stroke-width="0.3">E</text>
<text transform="translate(127.55,847.30) scale(0.78,1)" font-size="12" text-anchor="middle" stroke="#1e1e1e" stroke-width="0.3">h</text>
<text transform="translate(152.10,847.30) scale(0.78,1)" font-size="12" text-anchor="middle" stroke="#1e1e1e" stroke-width="0.3">R</text>
<text transform="translate(176.30,847.30) scale(0.78,1)" font-size="12" text-anchor="middle" stroke="#1e1e1e" stroke-width="0.3">n</text>
<text transform="translate(199.90,847.30) scale(0.78,1)" font-size="12" text-anchor="middle" stroke="#1e1e1e" stroke-width="0.3">d</text>
<text transform="translate(203.80,848.60) scale(0.9,1)" font-size="5.2" text-anchor="middle" font-weight="bold">0</text>
<text transform="translate(234.00,854.60) scale(0.7,1)" font-size="10" text-anchor="middle" stroke="#1e1e1e" stroke-width="0.3">D</text>
<text transform="translate(237.63,855.90) scale(0.9,1)" font-size="5.2" text-anchor="middle" font-weight="bold">1</text>
<text transform="translate(269.25,854.60) scale(0.7,1)" font-size="10" text-anchor="middle" stroke="#1e1e1e" stroke-width="0.3">d</text>
<text transform="translate(272.53,855.90) scale(0.9,1)" font-size="5.2" text-anchor="middle" font-weight="bold">1</text>
<text transform="translate(296.45,854.60) scale(0.7,1)" font-size="10" text-anchor="middle" stroke="#1e1e1e" stroke-width="0.3">C</text>
<text transform="translate(300.08,855.90) scale(0.9,1)" font-size="5.2" text-anchor="middle" font-weight="bold">1</text>
<text transform="translate(324.25,854.60) scale(0.7,1)" font-size="10" text-anchor="middle" stroke="#1e1e1e" stroke-width="0.3">e</text>
<text transform="translate(327.53,855.90) scale(0.9,1)" font-size="5.2" text-anchor="middle" font-weight="bold">1</text>
<text transform="translate(358.25,854.60) scale(0.7,1)" font-size="10" text-anchor="middle" stroke="#1e1e1e" stroke-width="0.3">D</text>
<text transform="translate(361.88,855.90) scale(0.9,1)" font-size="5.2" text-anchor="middle" font-weight="bold">2</text>
<text transform="translate(392.10,854.60) scale(0.7,1)" font-size="10" text-anchor="middle" stroke="#1e1e1e" stroke-width="0.3">d</text>
<text transform="translate(395.38,855.90) scale(0.9,1)" font-size="5.2" text-anchor="middle" font-weight="bold">2</text>
<text transform="translate(419.85,854.60) scale(0.7,1)" font-size="10" text-anchor="middle" stroke="#1e1e1e" stroke-width="0.3">C</text>
<text transform="translate(423.48,855.90) scale(0.9,1)" font-size="5.2" text-anchor="middle" font-weight="bold">2</text>
<text transform="translate(447.65,854.60) scale(0.7,1)" font-size="10" text-anchor="middle" stroke="#1e1e1e" stroke-width="0.3">e</text>
<text transform="translate(450.93,855.90) scale(0.9,1)" font-size="5.2" text-anchor="middle" font-weight="bold">2</text>
<text transform="translate(482.50,845.50) scale(0.78,1)" font-size="11" text-anchor="middle" stroke="#1e1e1e" stroke-width="0.3">D</text>
<text transform="translate(521.45,845.50) scale(0.78,1)" font-size="11" text-anchor="middle" stroke="#1e1e1e" stroke-width="0.3">H</text>
<text transform="translate(560.50,853.80) scale(0.78,1)" font-size="11" text-anchor="middle" stroke="#1e1e1e" stroke-width="0.3">L</text>
<text transform="translate(595.15,855.30) scale(0.78,1)" font-size="11" text-anchor="middle" stroke="#1e1e1e" stroke-width="0.3">L</text>
<text transform="translate(598.63,856.60) scale(0.9,1)" font-size="5.2" text-anchor="middle" font-weight="bold">1</text>
<text transform="translate(630.60,855.30) scale(0.78,1)" font-size="11" text-anchor="middle" stroke="#1e1e1e" stroke-width="0.3">L</text>
<text transform="translate(634.08,856.60) scale(0.9,1)" font-size="5.2" text-anchor="middle" font-weight="bold">2</text>
<text transform="translate(667.10,855.30) scale(0.78,1)" font-size="11" text-anchor="middle" stroke="#1e1e1e" stroke-width="0.3">L</text>
<text transform="translate(670.58,856.60) scale(0.9,1)" font-size="5.2" text-anchor="middle" font-weight="bold">3</text>
<text transform="translate(25.45,870.40) scale(1.06,1)" font-size="12" text-anchor="middle" letter-spacing="0.7" dx="0.35">02</text>
<text transform="translate(54.70,870.40)" font-size="12" text-anchor="middle" letter-spacing="0.4" dx="0.20">130</text>
<text transform="translate(79.25,870.80) scale(0.72,1)" font-size="11.5" text-anchor="middle">110h9</text>
<text transform="translate(103.65,870.60)" font-size="11.2" text-anchor="middle" letter-spacing="0.2" dx="0.10">30</text>
<text transform="translate(128.05,870.60)" font-size="11.2" text-anchor="middle" letter-spacing="0.2" dx="0.10">12</text>
<text transform="translate(152.60,870.60)" font-size="11.2" text-anchor="middle" letter-spacing="0.2" dx="0.10">3.5</text>
<text transform="translate(176.80,870.70) scale(0.72,1)" font-size="11.5" text-anchor="middle">4</text>
<text transform="translate(201.40,870.00)" font-size="11.2" text-anchor="middle" letter-spacing="0.2" dx="0.10">10</text>
<text transform="translate(235.90,872.00) scale(0.8,1)" font-size="10" text-anchor="middle">14js6</text>
<text transform="translate(271.15,872.00) scale(0.8,1)" font-size="10" text-anchor="middle">5</text>
<text transform="translate(298.35,872.00) scale(0.8,1)" font-size="10" text-anchor="middle">16</text>
<text transform="translate(326.15,872.00) scale(0.8,1)" font-size="10" text-anchor="middle">30</text>
<text transform="translate(360.15,872.00) scale(0.8,1)" font-size="10" text-anchor="middle">14js6</text>
<text transform="translate(394.00,872.00) scale(0.8,1)" font-size="10" text-anchor="middle">5</text>
<text transform="translate(421.75,872.00) scale(0.8,1)" font-size="10" text-anchor="middle">16</text>
<text transform="translate(449.55,872.00) scale(0.8,1)" font-size="10" text-anchor="middle">25</text>
<text transform="translate(482.50,870.40) scale(0.78,1)" font-size="10.2" text-anchor="middle">160</text>
<text transform="translate(521.45,870.40) scale(0.78,1)" font-size="10.2" text-anchor="middle">202</text>
<text transform="translate(560.50,870.10) scale(0.78,1)" font-size="10.2" text-anchor="middle">193</text>
<text transform="translate(596.65,872.50) scale(0.78,1)" font-size="10.2" text-anchor="middle">129</text>
<text transform="translate(632.10,872.50) scale(0.78,1)" font-size="10.2" text-anchor="middle">200</text>
<text transform="translate(668.60,872.50) scale(0.78,1)" font-size="10.2" text-anchor="middle">260</text>
<text transform="translate(25.45,886.00) scale(1.06,1)" font-size="12" text-anchor="middle" letter-spacing="0.7" dx="0.35">04</text>
<text transform="translate(54.70,886.00)" font-size="12" text-anchor="middle" letter-spacing="0.4" dx="0.20">165</text>
<text transform="translate(79.25,886.40) scale(0.72,1)" font-size="11.5" text-anchor="middle">130h9</text>
<text transform="translate(103.65,886.20)" font-size="11.2" text-anchor="middle" letter-spacing="0.2" dx="0.10">30</text>
<text transform="translate(128.05,886.20)" font-size="11.2" text-anchor="middle" letter-spacing="0.2" dx="0.10">12</text>
<text transform="translate(152.60,886.20)" font-size="11.2" text-anchor="middle" letter-spacing="0.2" dx="0.10">3.5</text>
<text transform="translate(176.80,886.30) scale(0.72,1)" font-size="11.5" text-anchor="middle">4</text>
<text transform="translate(201.40,885.60)" font-size="11.2" text-anchor="middle" letter-spacing="0.2" dx="0.10">12</text>
<text transform="translate(235.90,887.60) scale(0.8,1)" font-size="10" text-anchor="middle">14js6</text>
<text transform="translate(271.15,887.60) scale(0.8,1)" font-size="10" text-anchor="middle">5</text>
<text transform="translate(298.35,887.60) scale(0.8,1)" font-size="10" text-anchor="middle">16</text>
<text transform="translate(326.15,887.60) scale(0.8,1)" font-size="10" text-anchor="middle">30</text>
<text transform="translate(360.15,887.60) scale(0.8,1)" font-size="10" text-anchor="middle">14js6</text>
<text transform="translate(394.00,887.60) scale(0.8,1)" font-size="10" text-anchor="middle">5</text>
<text transform="translate(421.75,887.60) scale(0.8,1)" font-size="10" text-anchor="middle">16</text>
<text transform="translate(449.55,887.60) scale(0.8,1)" font-size="10" text-anchor="middle">30</text>
<text transform="translate(482.50,886.00) scale(0.78,1)" font-size="10.2" text-anchor="middle">200</text>
<text transform="translate(521.45,886.00) scale(0.78,1)" font-size="10.2" text-anchor="middle">228</text>
<text transform="translate(560.50,885.70) scale(0.78,1)" font-size="10.2" text-anchor="middle">221</text>
<text transform="translate(596.65,888.10) scale(0.78,1)" font-size="10.2" text-anchor="middle">145</text>
<text transform="translate(632.10,888.10) scale(0.78,1)" font-size="10.2" text-anchor="middle">235</text>
<text transform="translate(668.60,888.10) scale(0.78,1)" font-size="10.2" text-anchor="middle">300</text>
<text transform="translate(25.45,901.70) scale(1.06,1)" font-size="12" text-anchor="middle" letter-spacing="0.7" dx="0.35">07</text>
<text transform="translate(54.70,901.70)" font-size="12" text-anchor="middle" letter-spacing="0.4" dx="0.20">165</text>
<text transform="translate(79.25,902.10) scale(0.72,1)" font-size="11.5" text-anchor="middle">130h9</text>
<text transform="translate(103.65,901.90)" font-size="11.2" text-anchor="middle" letter-spacing="0.2" dx="0.10">40</text>
<text transform="translate(128.05,901.90)" font-size="11.2" text-anchor="middle" letter-spacing="0.2" dx="0.10">12</text>
<text transform="translate(152.60,901.90)" font-size="11.2" text-anchor="middle" letter-spacing="0.2" dx="0.10">3.5</text>
<text transform="translate(176.80,902.00) scale(0.72,1)" font-size="11.5" text-anchor="middle">4</text>
<text transform="translate(201.40,901.30)" font-size="11.2" text-anchor="middle" letter-spacing="0.2" dx="0.10">12</text>
<text transform="translate(235.90,903.30) scale(0.8,1)" font-size="10" text-anchor="middle">20js6</text>
<text transform="translate(271.15,903.30) scale(0.8,1)" font-size="10" text-anchor="middle">6</text>
<text transform="translate(298.35,903.30) scale(0.8,1)" font-size="10" text-anchor="middle">22.5</text>
<text transform="translate(326.15,903.30) scale(0.8,1)" font-size="10" text-anchor="middle">40</text>
<text transform="translate(360.15,903.30) scale(0.8,1)" font-size="10" text-anchor="middle">19js6</text>
<text transform="translate(394.00,903.30) scale(0.8,1)" font-size="10" text-anchor="middle">6</text>
<text transform="translate(421.75,903.30) scale(0.8,1)" font-size="10" text-anchor="middle">21.5</text>
<text transform="translate(449.55,903.30) scale(0.8,1)" font-size="10" text-anchor="middle">30</text>
<text transform="translate(482.50,901.70) scale(0.78,1)" font-size="10.2" text-anchor="middle">200</text>
<text transform="translate(521.45,901.70) scale(0.78,1)" font-size="10.2" text-anchor="middle">257</text>
<text transform="translate(560.50,901.40) scale(0.78,1)" font-size="10.2" text-anchor="middle">243</text>
<text transform="translate(596.65,903.80) scale(0.78,1)" font-size="10.2" text-anchor="middle">177</text>
<text transform="translate(632.10,903.80) scale(0.78,1)" font-size="10.2" text-anchor="middle">245</text>
<text transform="translate(668.60,903.80) scale(0.78,1)" font-size="10.2" text-anchor="middle">335</text>
<text transform="translate(25.45,917.30) scale(1.06,1)" font-size="12" text-anchor="middle" letter-spacing="0.7" dx="0.35">15</text>
<text transform="translate(54.70,917.30)" font-size="12" text-anchor="middle" letter-spacing="0.4" dx="0.20">215</text>
<text transform="translate(79.25,917.70) scale(0.72,1)" font-size="11.5" text-anchor="middle">180h9</text>
<text transform="translate(103.65,917.50)" font-size="11.2" text-anchor="middle" letter-spacing="0.2" dx="0.10">50</text>
<text transform="translate(128.05,917.50)" font-size="11.2" text-anchor="middle" letter-spacing="0.2" dx="0.10">16</text>
<text transform="translate(152.60,917.50)" font-size="11.2" text-anchor="middle" letter-spacing="0.2" dx="0.10">4</text>
<text transform="translate(176.80,917.60) scale(0.72,1)" font-size="11.5" text-anchor="middle">4</text>
<text transform="translate(201.40,916.90)" font-size="11.2" text-anchor="middle" letter-spacing="0.2" dx="0.10">15</text>
<text transform="translate(235.90,918.90) scale(0.8,1)" font-size="10" text-anchor="middle">25js6</text>
<text transform="translate(271.15,918.90) scale(0.8,1)" font-size="10" text-anchor="middle">8</text>
<text transform="translate(298.35,918.90) scale(0.8,1)" font-size="10" text-anchor="middle">28</text>
<text transform="translate(326.15,918.90) scale(0.8,1)" font-size="10" text-anchor="middle">50</text>
<text transform="translate(360.15,918.90) scale(0.8,1)" font-size="10" text-anchor="middle">24js6</text>
<text transform="translate(394.00,918.90) scale(0.8,1)" font-size="10" text-anchor="middle">8</text>
<text transform="translate(421.75,918.90) scale(0.8,1)" font-size="10" text-anchor="middle">27</text>
<text transform="translate(449.55,918.90) scale(0.8,1)" font-size="10" text-anchor="middle">40</text>
<text transform="translate(482.50,917.30) scale(0.78,1)" font-size="10.2" text-anchor="middle">250</text>
<text transform="translate(521.45,917.30) scale(0.78,1)" font-size="10.2" text-anchor="middle">287</text>
<text transform="translate(560.50,917.00) scale(0.78,1)" font-size="10.2" text-anchor="middle">314</text>
<text transform="translate(596.65,919.40) scale(0.78,1)" font-size="10.2" text-anchor="middle">223</text>
<text transform="translate(632.10,919.40) scale(0.78,1)" font-size="10.2" text-anchor="middle">285</text>
<text transform="translate(668.60,919.40) scale(0.78,1)" font-size="10.2" text-anchor="middle">391</text>
<text transform="translate(25.45,932.80) scale(1.06,1)" font-size="12" text-anchor="middle" letter-spacing="0.7" dx="0.35">22</text>
<text transform="translate(25.45,948.60) scale(1.06,1)" font-size="12" text-anchor="middle" letter-spacing="0.7" dx="0.35">40</text>
<text transform="translate(54.70,937.00)" font-size="12" text-anchor="middle" letter-spacing="0.4" dx="0.20">265</text>
<text transform="translate(79.25,941.50) scale(0.72,1)" font-size="11.5" text-anchor="middle">230h9</text>
<text transform="translate(103.65,940.00)" font-size="11.2" text-anchor="middle" letter-spacing="0.2" dx="0.10">60</text>
<text transform="translate(128.05,940.00)" font-size="11.2" text-anchor="middle" letter-spacing="0.2" dx="0.10">16</text>
<text transform="translate(152.60,940.00)" font-size="11.2" text-anchor="middle" letter-spacing="0.2" dx="0.10">4</text>
<text transform="translate(176.80,940.00) scale(0.72,1)" font-size="11.5" text-anchor="middle">4</text>
<text transform="translate(201.40,940.00)" font-size="11.2" text-anchor="middle" letter-spacing="0.2" dx="0.10">15</text>
<text transform="translate(235.90,941.20) scale(0.8,1)" font-size="10" text-anchor="middle">30js6</text>
<text transform="translate(271.15,941.20) scale(0.8,1)" font-size="10" text-anchor="middle">8</text>
<text transform="translate(298.35,941.20) scale(0.8,1)" font-size="10" text-anchor="middle">33</text>
<text transform="translate(326.15,941.20) scale(0.8,1)" font-size="10" text-anchor="middle">60</text>
<text transform="translate(360.15,942.40) scale(0.8,1)" font-size="10" text-anchor="middle">24js6</text>
<text transform="translate(394.00,941.20) scale(0.8,1)" font-size="10" text-anchor="middle">8</text>
<text transform="translate(421.75,941.20) scale(0.8,1)" font-size="10" text-anchor="middle">27</text>
<text transform="translate(449.55,941.80) scale(0.8,1)" font-size="10" text-anchor="middle">50</text>
<text transform="translate(482.50,944.50) scale(0.78,1)" font-size="10.2" text-anchor="middle">300</text>
<text transform="translate(521.45,940.70) scale(0.78,1)" font-size="10.2" text-anchor="middle">343</text>
<text transform="translate(560.50,940.00) scale(0.78,1)" font-size="10.2" text-anchor="middle">387</text>
<text transform="translate(596.65,941.80) scale(0.78,1)" font-size="10.2" text-anchor="middle">268</text>
<text transform="translate(632.10,941.50) scale(0.78,1)" font-size="10.2" text-anchor="middle">320</text>
<text transform="translate(668.60,941.00) scale(0.78,1)" font-size="10.2" text-anchor="middle">476</text>
<text transform="translate(25.45,964.00) scale(1.06,1)" font-size="12" text-anchor="middle" letter-spacing="0.7" dx="0.35">55</text>
<text transform="translate(25.45,979.80) scale(1.06,1)" font-size="12" text-anchor="middle" letter-spacing="0.7" dx="0.35">75</text>
<text transform="translate(54.70,967.70)" font-size="12" text-anchor="middle" letter-spacing="0.4" dx="0.20">300</text>
<text transform="translate(79.25,972.70) scale(0.72,1)" font-size="11.5" text-anchor="middle">250h9</text>
<text transform="translate(103.65,971.20)" font-size="11.2" text-anchor="middle" letter-spacing="0.2" dx="0.10">70</text>
<text transform="translate(128.05,971.20)" font-size="11.2" text-anchor="middle" letter-spacing="0.2" dx="0.10">20</text>
<text transform="translate(152.60,971.20)" font-size="11.2" text-anchor="middle" letter-spacing="0.2" dx="0.10">5</text>
<text transform="translate(176.80,971.20) scale(0.72,1)" font-size="11.5" text-anchor="middle">4</text>
<text transform="translate(201.40,971.20)" font-size="11.2" text-anchor="middle" letter-spacing="0.2" dx="0.10">19</text>
<text transform="translate(235.90,972.90) scale(0.8,1)" font-size="10" text-anchor="middle">35js6</text>
<text transform="translate(271.15,972.40) scale(0.8,1)" font-size="10" text-anchor="middle">10</text>
<text transform="translate(298.35,972.40) scale(0.8,1)" font-size="10" text-anchor="middle">38</text>
<text transform="translate(326.15,972.40) scale(0.8,1)" font-size="10" text-anchor="middle">70</text>
<text transform="translate(360.15,973.10) scale(0.8,1)" font-size="10" text-anchor="middle">32js6</text>
<text transform="translate(394.00,972.40) scale(0.8,1)" font-size="10" text-anchor="middle">10</text>
<text transform="translate(421.75,972.40) scale(0.8,1)" font-size="10" text-anchor="middle">35</text>
<text transform="translate(449.55,973.00) scale(0.8,1)" font-size="10" text-anchor="middle">60</text>
<text transform="translate(482.50,975.70) scale(0.78,1)" font-size="10.2" text-anchor="middle">350</text>
<text transform="translate(521.45,971.90) scale(0.78,1)" font-size="10.2" text-anchor="middle">466</text>
<text transform="translate(560.50,971.20) scale(0.78,1)" font-size="10.2" text-anchor="middle">467</text>
<text transform="translate(596.65,973.70) scale(0.78,1)" font-size="10.2" text-anchor="middle">319</text>
<text transform="translate(632.10,972.70) scale(0.78,1)" font-size="10.2" text-anchor="middle">435</text>
<text transform="translate(668.60,972.20) scale(0.78,1)" font-size="10.2" text-anchor="middle">617</text>
<text transform="translate(25.45,993.00) scale(1.02,1)" font-size="11.3" text-anchor="middle" letter-spacing="0.6" dx="0.30">150</text>
<text transform="translate(54.70,993.00) scale(1.02,1)" font-size="11.3" text-anchor="middle" letter-spacing="0.6" dx="0.30">400</text>
<text transform="translate(79.25,993.00)" font-size="11" text-anchor="middle" letter-spacing="0.5" dx="0.25">350</text>
<text transform="translate(103.65,993.00)" font-size="11" text-anchor="middle" letter-spacing="0.5" dx="0.25">110</text>
<text transform="translate(128.05,993.00)" font-size="11" text-anchor="middle" letter-spacing="0.5" dx="0.25">28</text>
<text transform="translate(152.60,993.00)" font-size="11" text-anchor="middle" letter-spacing="0.5" dx="0.25">5</text>
<text transform="translate(176.80,993.00)" font-size="11" text-anchor="middle" letter-spacing="0.5" dx="0.25">4</text>
<text transform="translate(201.40,993.00)" font-size="11" text-anchor="middle" letter-spacing="0.5" dx="0.25">19</text>
<text transform="translate(235.90,993.00) scale(0.95,1)" font-size="11" text-anchor="middle" letter-spacing="0.3" dx="0.15">50js6</text>
<text transform="translate(271.15,993.00)" font-size="11" text-anchor="middle" letter-spacing="0.5" dx="0.25">14</text>
<text transform="translate(298.35,993.00)" font-size="11" text-anchor="middle" letter-spacing="0.5" dx="0.25">535</text>
<text transform="translate(326.15,993.00)" font-size="11" text-anchor="middle" letter-spacing="0.5" dx="0.25">110</text>
<text transform="translate(360.15,993.00)" font-size="11" text-anchor="middle" letter-spacing="0.5" dx="0.25">40</text>
<text transform="translate(394.00,993.00)" font-size="11" text-anchor="middle" letter-spacing="0.5" dx="0.25">12</text>
<text transform="translate(421.75,993.00)" font-size="11" text-anchor="middle" letter-spacing="0.5" dx="0.25">43</text>
<text transform="translate(449.55,993.00)" font-size="11" text-anchor="middle" letter-spacing="0.5" dx="0.25">82</text>
<text transform="translate(482.50,993.00)" font-size="11" text-anchor="middle" letter-spacing="0.5" dx="0.25">400</text>
<text transform="translate(521.45,993.00)" font-size="11" text-anchor="middle" letter-spacing="0.5" dx="0.25">603</text>
<text transform="translate(560.50,993.00)" font-size="11" text-anchor="middle" letter-spacing="0.5" dx="0.25">592</text>
<text transform="translate(596.65,993.00)" font-size="11" text-anchor="middle" letter-spacing="0.5" dx="0.25">456</text>
<text transform="translate(632.10,993.00)" font-size="11" text-anchor="middle" letter-spacing="0.5" dx="0.25">495</text>
<text transform="translate(668.60,993.00)" font-size="11" text-anchor="middle" letter-spacing="0.5" dx="0.25">800</text>
<text transform="translate(25.45,1004.00) scale(1.02,1)" font-size="11.3" text-anchor="middle" letter-spacing="0.6" dx="0.30">220</text>
<text transform="translate(54.70,1004.00) scale(1.02,1)" font-size="11.3" text-anchor="middle" letter-spacing="0.6" dx="0.30">400</text>
<text transform="translate(79.25,1004.00)" font-size="11" text-anchor="middle" letter-spacing="0.5" dx="0.25">350</text>
<text transform="translate(103.65,1004.00)" font-size="11" text-anchor="middle" letter-spacing="0.5" dx="0.25">110</text>
<text transform="translate(128.05,1004.00)" font-size="11" text-anchor="middle" letter-spacing="0.5" dx="0.25">28</text>
<text transform="translate(152.60,1004.00)" font-size="11" text-anchor="middle" letter-spacing="0.5" dx="0.25">5</text>
<text transform="translate(176.80,1004.00)" font-size="11" text-anchor="middle" letter-spacing="0.5" dx="0.25">4</text>
<text transform="translate(201.40,1004.00)" font-size="11" text-anchor="middle" letter-spacing="0.5" dx="0.25">19</text>
<text transform="translate(235.90,1004.00) scale(0.95,1)" font-size="11" text-anchor="middle" letter-spacing="0.3" dx="0.15">50js6</text>
<text transform="translate(271.15,1004.00)" font-size="11" text-anchor="middle" letter-spacing="0.5" dx="0.25">16</text>
<text transform="translate(298.35,1004.00)" font-size="11" text-anchor="middle" letter-spacing="0.5" dx="0.25">60</text>
<text transform="translate(326.15,1004.00)" font-size="11" text-anchor="middle" letter-spacing="0.5" dx="0.25">110</text>
<text transform="translate(360.15,1004.00)" font-size="11" text-anchor="middle" letter-spacing="0.5" dx="0.25">45</text>
<text transform="translate(394.00,1004.00)" font-size="11" text-anchor="middle" letter-spacing="0.5" dx="0.25">14</text>
<text transform="translate(421.75,1004.00)" font-size="11" text-anchor="middle" letter-spacing="0.5" dx="0.25">48.5</text>
<text transform="translate(449.55,1004.00)" font-size="11" text-anchor="middle" letter-spacing="0.5" dx="0.25">82</text>
<text transform="translate(482.50,1004.00)" font-size="11" text-anchor="middle" letter-spacing="0.5" dx="0.25">400</text>
<text transform="translate(521.45,1004.00)" font-size="11" text-anchor="middle" letter-spacing="0.5" dx="0.25">629</text>
<text transform="translate(560.50,1004.00)" font-size="11" text-anchor="middle" letter-spacing="0.5" dx="0.25">592</text>
<text transform="translate(596.65,1004.00)" font-size="11" text-anchor="middle" letter-spacing="0.5" dx="0.25">456</text>
<text transform="translate(632.10,1004.00)" font-size="11" text-anchor="middle" letter-spacing="0.5" dx="0.25">600</text>
<text transform="translate(668.60,1004.00)" font-size="11" text-anchor="middle" letter-spacing="0.5" dx="0.25">800</text>
<g filter="url(#blur1)">
<ellipse cx="645.5" cy="30" rx="10.5" ry="15" fill="#d2d2d2"/>
<path d="M638 18L650 15L656 22L652 30L640 30Z" fill="#bdbdbd"/>
<rect x="656" y="16" width="21" height="25" rx="3" fill="#a8a8a8"/>
<rect x="657" y="15.5" width="13" height="8" fill="#b8b8b8"/>
<rect x="657.5" y="26" width="19" height="1.5" fill="#6a6a6a"/>
<rect x="657.5" y="29" width="19" height="1.5" fill="#6a6a6a"/>
<rect x="657.5" y="32" width="19" height="1.5" fill="#6a6a6a"/>
<rect x="657.5" y="35" width="19" height="1.5" fill="#6a6a6a"/>
<rect x="657.5" y="38" width="19" height="1.5" fill="#6a6a6a"/>
<ellipse cx="680" cy="30.5" rx="4.8" ry="10.5" fill="#c4c4c4"/>
<ellipse cx="678" cy="30.5" rx="2" ry="10" fill="#999"/>
<rect x="628" y="35.5" width="9" height="3" fill="#7c7c7c"/>
<rect x="639" y="45" width="21" height="9" rx="2" fill="#b4b4b4"/>
<rect x="641" y="47" width="16" height="3" fill="#8a8a8a"/>
<rect x="646" y="35" width="11" height="10" fill="#9a9a9a"/>
<circle cx="650.5" cy="27.7" r="4.3" fill="#777" stroke="#222" stroke-width="2.2"/>
</g>
<circle cx="42.8" cy="135.5" r="8.3" stroke="#2e2e2e" stroke-width="1.0" fill="none"/>
<path d="M36.4 139.7L42.4 133.5" stroke="#2e2e2e" stroke-width="0.71" fill="none"/>
<path d="M38.2 140.3L44.2 133.5" stroke="#2e2e2e" stroke-width="0.71" fill="none"/>
<path d="M40.0 140.1L46.0 133.5" stroke="#2e2e2e" stroke-width="0.71" fill="none"/>
<path d="M41.8 139.5L47.8 133.5" stroke="#2e2e2e" stroke-width="0.71" fill="none"/>
<rect x="39.3" y="122.5" width="6.9" height="11.0" rx="0" stroke="#2e2e2e" stroke-width="0.94" fill="none"/>
<path d="M39.3 117.5L39.3 122.5" stroke="#2e2e2e" stroke-width="0.83" fill="none"/>
<path d="M46.2 117.5L46.2 122.5" stroke="#2e2e2e" stroke-width="0.83" fill="none"/>
<path d="M32.7 121.6L60.0 121.6" stroke="#2e2e2e" stroke-width="0.94" fill="none"/>
<path d="M39.3 121.6L36.3 122.8L36.3 120.3Z" fill="#222"/>
<path d="M46.2 121.6L49.2 120.3L49.2 122.8Z" fill="#222"/>
<text transform="translate(56.4,119.5) scale(0.9,1)" font-size="11" text-anchor="middle">d<tspan font-size="7.3" dy="0.5">1</tspan></text>
<path d="M28.0 126.6L28.0 143.7" stroke="#2e2e2e" stroke-width="0.94" fill="none"/>
<path d="M28.0 126.6L29.2 130.6L26.8 130.6Z" fill="#222"/>
<path d="M28.0 143.7L26.8 139.7L29.2 139.7Z" fill="#222"/>
<path d="M25.0 126.6L39.3 126.6" stroke="#2e2e2e" stroke-width="0.83" fill="none"/>
<path d="M25.0 143.7L48.8 143.7" stroke="#2e2e2e" stroke-width="0.83" fill="none"/>
<text transform="translate(26.5,135.1) rotate(-90) scale(0.9,1)" font-size="9" text-anchor="middle">C<tspan font-size="5.9" dy="0.5">1</tspan></text>
<path d="M31.5 135.5L55.1 135.5" stroke="#2e2e2e" stroke-width="0.83" fill="none"/>
<path d="M34.5 135.5L34.5 158.1" stroke="#2e2e2e" stroke-width="0.94" fill="none"/>
<path d="M51.0 135.5L51.0 158.1" stroke="#2e2e2e" stroke-width="0.94" fill="none"/>
<path d="M34.5 155.6L51.0 155.6" stroke="#2e2e2e" stroke-width="0.94" fill="none"/>
<path d="M34.5 155.6L38.5 154.3L38.5 156.8Z" fill="#222"/>
<path d="M51.0 155.6L47.0 156.8L47.0 154.3Z" fill="#222"/>
<text transform="translate(42.5,153.5) scale(0.9,1)" font-size="11" text-anchor="middle">b<tspan font-size="7.3" dy="0.5">1</tspan></text>
<circle cx="47.5" cy="198.0" r="8.3" stroke="#2e2e2e" stroke-width="1.0" fill="none"/>
<path d="M41.1 202.2L47.1 196.0" stroke="#2e2e2e" stroke-width="0.71" fill="none"/>
<path d="M42.9 202.8L48.9 196.0" stroke="#2e2e2e" stroke-width="0.71" fill="none"/>
<path d="M44.7 202.6L50.7 196.0" stroke="#2e2e2e" stroke-width="0.71" fill="none"/>
<path d="M46.5 202.0L52.5 196.0" stroke="#2e2e2e" stroke-width="0.71" fill="none"/>
<rect x="44.0" y="185.2" width="6.9" height="10.8" rx="0" stroke="#2e2e2e" stroke-width="0.94" fill="none"/>
<path d="M44.0 180.2L44.0 185.2" stroke="#2e2e2e" stroke-width="0.83" fill="none"/>
<path d="M51.0 180.2L51.0 185.2" stroke="#2e2e2e" stroke-width="0.83" fill="none"/>
<path d="M37.0 184.3L64.0 184.3" stroke="#2e2e2e" stroke-width="0.94" fill="none"/>
<path d="M44.0 184.3L41.0 185.6L41.0 183.1Z" fill="#222"/>
<path d="M51.0 184.3L54.0 183.1L54.0 185.6Z" fill="#222"/>
<text transform="translate(60.0,183.8) scale(0.9,1)" font-size="11" text-anchor="middle">d<tspan font-size="7.3" dy="0.5">2</tspan></text>
<path d="M32.7 189.0L32.7 205.8" stroke="#2e2e2e" stroke-width="0.94" fill="none"/>
<path d="M32.7 189.0L34.0 193.0L31.5 193.0Z" fill="#222"/>
<path d="M32.7 205.8L31.5 201.8L34.0 201.8Z" fill="#222"/>
<path d="M29.7 189.0L44.0 189.0" stroke="#2e2e2e" stroke-width="0.83" fill="none"/>
<path d="M29.7 205.8L53.5 205.8" stroke="#2e2e2e" stroke-width="0.83" fill="none"/>
<text transform="translate(31.0,197.4) rotate(-90) scale(0.9,1)" font-size="9" text-anchor="middle">C<tspan font-size="5.9" dy="0.5">2</tspan></text>
<path d="M36.2 198.0L59.8 198.0" stroke="#2e2e2e" stroke-width="0.83" fill="none"/>
<path d="M39.2 198.0L39.2 218.9" stroke="#2e2e2e" stroke-width="0.94" fill="none"/>
<path d="M55.8 198.0L55.8 218.9" stroke="#2e2e2e" stroke-width="0.94" fill="none"/>
<path d="M39.2 216.4L55.8 216.4" stroke="#2e2e2e" stroke-width="0.94" fill="none"/>
<path d="M39.2 216.4L43.2 215.2L43.2 217.7Z" fill="#222"/>
<path d="M55.8 216.4L51.8 217.7L51.8 215.2Z" fill="#222"/>
<text transform="translate(48.0,215.4) scale(0.9,1)" font-size="11" text-anchor="middle">b<tspan font-size="7.3" dy="0.5">2</tspan></text>
<circle cx="47.0" cy="611.2" r="7.6" stroke="#2e2e2e" stroke-width="1.0" fill="none"/>
<path d="M40.6 615.4L46.6 609.2" stroke="#2e2e2e" stroke-width="0.71" fill="none"/>
<path d="M42.4 616.0L48.4 609.2" stroke="#2e2e2e" stroke-width="0.71" fill="none"/>
<path d="M44.2 615.8L50.2 609.2" stroke="#2e2e2e" stroke-width="0.71" fill="none"/>
<path d="M46.0 615.2L52.0 609.2" stroke="#2e2e2e" stroke-width="0.71" fill="none"/>
<rect x="44.2" y="598.0" width="5.5" height="11.2" rx="0" stroke="#2e2e2e" stroke-width="0.94" fill="none"/>
<path d="M44.2 593.0L44.2 598.0" stroke="#2e2e2e" stroke-width="0.83" fill="none"/>
<path d="M49.8 593.0L49.8 598.0" stroke="#2e2e2e" stroke-width="0.83" fill="none"/>
<path d="M36.4 597.0L68.0 597.0" stroke="#2e2e2e" stroke-width="0.94" fill="none"/>
<path d="M44.2 597.0L41.2 598.2L41.2 595.8Z" fill="#222"/>
<path d="M49.8 597.0L52.8 595.8L52.8 598.2Z" fill="#222"/>
<text transform="translate(60.0,596.5) scale(0.9,1)" font-size="11" text-anchor="middle" font-family="'Liberation Serif',serif">d<tspan font-size="7.3" dy="0.5">1</tspan></text>
<path d="M32.7 602.2L32.7 619.5" stroke="#2e2e2e" stroke-width="0.94" fill="none"/>
<path d="M32.7 602.2L34.0 606.2L31.5 606.2Z" fill="#222"/>
<path d="M32.7 619.5L31.5 615.5L34.0 615.5Z" fill="#222"/>
<path d="M29.7 602.2L44.2 602.2" stroke="#2e2e2e" stroke-width="0.83" fill="none"/>
<path d="M29.7 619.5L53.0 619.5" stroke="#2e2e2e" stroke-width="0.83" fill="none"/>
<text transform="translate(31.0,610.9) rotate(-90) scale(0.9,1)" font-size="9" text-anchor="middle" font-family="'Liberation Serif',serif">C<tspan font-size="5.9" dy="0.5">1</tspan></text>
<path d="M36.4 611.2L58.6 611.2" stroke="#2e2e2e" stroke-width="0.83" fill="none"/>
<path d="M39.6 611.2L39.6 633.5" stroke="#2e2e2e" stroke-width="0.94" fill="none"/>
<path d="M55.0 611.2L55.0 633.5" stroke="#2e2e2e" stroke-width="0.94" fill="none"/>
<path d="M39.6 631.0L55.0 631.0" stroke="#2e2e2e" stroke-width="0.94" fill="none"/>
<path d="M39.6 631.0L43.6 629.8L43.6 632.2Z" fill="#222"/>
<path d="M55.0 631.0L51.0 632.2L51.0 629.8Z" fill="#222"/>
<text transform="translate(47.0,630.0) scale(0.9,1)" font-size="11" text-anchor="middle" font-family="'Liberation Serif',serif">b<tspan font-size="7.3" dy="0.5">1</tspan></text>
<circle cx="51.6" cy="671.9" r="7.6" stroke="#2e2e2e" stroke-width="1.0" fill="none"/>
<path d="M45.2 676.1L51.2 669.9" stroke="#2e2e2e" stroke-width="0.71" fill="none"/>
<path d="M47.0 676.7L53.0 669.9" stroke="#2e2e2e" stroke-width="0.71" fill="none"/>
<path d="M48.8 676.5L54.8 669.9" stroke="#2e2e2e" stroke-width="0.71" fill="none"/>
<path d="M50.6 675.9L56.6 669.9" stroke="#2e2e2e" stroke-width="0.71" fill="none"/>
<rect x="48.9" y="659.8" width="5.5" height="10.1" rx="0" stroke="#2e2e2e" stroke-width="0.94" fill="none"/>
<path d="M48.9 654.8L48.9 659.8" stroke="#2e2e2e" stroke-width="0.83" fill="none"/>
<path d="M54.4 654.8L54.4 659.8" stroke="#2e2e2e" stroke-width="0.83" fill="none"/>
<path d="M41.9 658.8L71.0 658.8" stroke="#2e2e2e" stroke-width="0.94" fill="none"/>
<path d="M48.9 658.8L45.9 660.0L45.9 657.5Z" fill="#222"/>
<path d="M54.4 658.8L57.4 657.5L57.4 660.0Z" fill="#222"/>
<text transform="translate(64.0,658.5) scale(0.9,1)" font-size="11" text-anchor="middle" font-family="'Liberation Serif',serif">d<tspan font-size="7.3" dy="0.5">2</tspan></text>
<path d="M38.4 663.6L38.4 679.2" stroke="#2e2e2e" stroke-width="0.94" fill="none"/>
<path d="M38.4 663.6L39.6 667.6L37.1 667.6Z" fill="#222"/>
<path d="M38.4 679.2L37.1 675.2L39.6 675.2Z" fill="#222"/>
<path d="M35.4 663.6L48.9 663.6" stroke="#2e2e2e" stroke-width="0.83" fill="none"/>
<path d="M35.4 679.2L57.6 679.2" stroke="#2e2e2e" stroke-width="0.83" fill="none"/>
<text transform="translate(36.5,671.4) rotate(-90) scale(0.9,1)" font-size="9" text-anchor="middle" font-family="'Liberation Serif',serif">C<tspan font-size="5.9" dy="0.5">2</tspan></text>
<path d="M41.0 671.9L63.2 671.9" stroke="#2e2e2e" stroke-width="0.83" fill="none"/>
<path d="M44.7 671.9L44.7 692.3" stroke="#2e2e2e" stroke-width="0.94" fill="none"/>
<path d="M58.9 671.9L58.9 692.3" stroke="#2e2e2e" stroke-width="0.94" fill="none"/>
<path d="M44.7 689.8L58.9 689.8" stroke="#2e2e2e" stroke-width="0.94" fill="none"/>
<path d="M44.7 689.8L48.7 688.5L48.7 691.0Z" fill="#222"/>
<path d="M58.9 689.8L54.9 691.0L54.9 688.5Z" fill="#222"/>
<text transform="translate(51.5,689.0) scale(0.9,1)" font-size="11" text-anchor="middle" font-family="'Liberation Serif',serif">b<tspan font-size="7.3" dy="0.5">2</tspan></text>
<path d="M169.3 85.8L169.3 157.0" stroke="#2e2e2e" stroke-width="1.06" fill="none"/>
<path d="M138.7 127.9L202.7 127.9" stroke="#2e2e2e" stroke-width="1.06" fill="none"/>
<circle cx="169.3" cy="127.9" r="23.7" stroke="#2e2e2e" stroke-width="1.1" fill="none"/>
<circle cx="169.3" cy="127.9" r="19.1" stroke="#2e2e2e" stroke-width="1.0" fill="none"/>
<circle cx="169.3" cy="127.9" r="17.3" stroke="#2e2e2e" stroke-width="0.94" fill="none"/>
<circle cx="169.3" cy="127.9" r="7.5" stroke="#2e2e2e" stroke-width="1.0" fill="none"/>
<path d="M166.3 127.9L172.3 127.9" stroke="#2e2e2e" stroke-width="0.83" fill="none"/>
<path d="M169.3 124.9L169.3 130.9" stroke="#2e2e2e" stroke-width="0.83" fill="none"/>
<path d="M160.2 121.5A11.1 11.1 0 0 1 178.4 121.5" stroke="#2e2e2e" stroke-width="0.94" fill="none" stroke-linejoin="round"/>
<path d="M159.4 122.7L160.2 118.9L162.7 120.6Z" fill="#222"/>
<path d="M179.2 122.7L175.9 120.6L178.4 118.9Z" fill="#222"/>
<path d="M146.3 139.0L146.3 221.5" stroke="#2e2e2e" stroke-width="1.0" fill="none"/>
<path d="M150.6 143.5L150.6 221.5" stroke="#2e2e2e" stroke-width="1.0" fill="none"/>
<path d="M192.6 139.0L192.6 221.5" stroke="#2e2e2e" stroke-width="1.0" fill="none"/>
<path d="M197.6 136.0L197.6 221.5" stroke="#2e2e2e" stroke-width="1.0" fill="none"/>
<path d="M191.0 136.0L197.6 136.0" stroke="#2e2e2e" stroke-width="1.0" fill="none"/>
<path d="M155.5 183.5V155.0Q155.5 151.0 159.5 151.0H184.5Q188.5 151.0 188.5 155.0V183.5" stroke="#2e2e2e" stroke-width="1.0" fill="none" stroke-linejoin="round"/>
<rect x="158.0" y="155.0" width="28.0" height="2.4" rx="1.2" stroke="#2e2e2e" stroke-width="0.7" fill="none"/>
<rect x="158.0" y="159.8" width="28.0" height="2.4" rx="1.2" stroke="#2e2e2e" stroke-width="0.7" fill="none"/>
<rect x="158.0" y="164.5" width="28.0" height="2.4" rx="1.2" stroke="#2e2e2e" stroke-width="0.7" fill="none"/>
<rect x="158.0" y="169.2" width="28.0" height="2.4" rx="1.2" stroke="#2e2e2e" stroke-width="0.7" fill="none"/>
<rect x="158.0" y="174.0" width="28.0" height="2.4" rx="1.2" stroke="#2e2e2e" stroke-width="0.7" fill="none"/>
<rect x="158.0" y="178.8" width="28.0" height="2.4" rx="1.2" stroke="#2e2e2e" stroke-width="0.7" fill="none"/>
<path d="M89.0 179.5L229.0 179.5" stroke="#2e2e2e" stroke-width="0.83" fill="none" stroke-dasharray="16 2 2 2"/>
<rect x="113.0" y="173.0" width="15.3" height="12.4" rx="0" stroke="#2e2e2e" stroke-width="1.0" fill="#e4e4e4"/>
<path d="M113.0 176.0L128.3 176.0" stroke="#2e2e2e" stroke-width="0.71" fill="none"/>
<rect x="129.4" y="163.7" width="6.5" height="31.3" rx="0" stroke="#2e2e2e" stroke-width="1.0" fill="none"/>
<path d="M135.9 166.0L146.3 148.0M135.9 193.0L146.3 211.0" stroke="#2e2e2e" stroke-width="1.0" fill="none" stroke-linejoin="round"/>
<path d="M135.9 169.9L146.3 157.0" stroke="#2e2e2e" stroke-width="0.71" fill="none"/>
<path d="M135.9 173.7L146.3 166.0" stroke="#2e2e2e" stroke-width="0.71" fill="none"/>
<path d="M135.9 177.6L146.3 175.0" stroke="#2e2e2e" stroke-width="0.71" fill="none"/>
<path d="M135.9 181.4L146.3 184.0" stroke="#2e2e2e" stroke-width="0.71" fill="none"/>
<path d="M135.9 185.3L146.3 193.0" stroke="#2e2e2e" stroke-width="0.71" fill="none"/>
<path d="M135.9 189.1L146.3 202.0" stroke="#2e2e2e" stroke-width="0.71" fill="none"/>
<rect x="137.0" y="176.5" width="9.0" height="6.0" rx="0" stroke="#2e2e2e" stroke-width="0.71" fill="#999"/>
<path d="M197.6 148.6Q206 150 208.4 160V198Q206 207 197.6 209" stroke="#2e2e2e" stroke-width="1.0" fill="none" stroke-linejoin="round"/>
<path d="M197.6 153Q203 155 204.5 162V196Q203 203 197.6 205" stroke="#2e2e2e" stroke-width="0.71" fill="none" stroke-linejoin="round"/>
<rect x="209.5" y="173.5" width="12.9" height="10.8" rx="1.5" stroke="#2e2e2e" stroke-width="1.0" fill="none"/>
<path d="M209.5 176.5L222.4 176.5" stroke="#2e2e2e" stroke-width="0.71" fill="none"/>
<path d="M120.0 166.0L120.0 170.0" stroke="#2e2e2e" stroke-width="0.83" fill="none"/>
<path d="M120.0 188.0L120.0 192.0" stroke="#2e2e2e" stroke-width="0.83" fill="none"/>
<path d="M216.0 166.0L216.0 170.0" stroke="#2e2e2e" stroke-width="0.83" fill="none"/>
<path d="M216.0 188.0L216.0 192.0" stroke="#2e2e2e" stroke-width="0.83" fill="none"/>
<circle cx="177.6" cy="198.0" r="5.4" stroke="#2e2e2e" stroke-width="1.0" fill="none"/>
<circle cx="177.6" cy="198.0" r="3.0" stroke="#2e2e2e" stroke-width="1.0" fill="none"/>
<path d="M168.6 198.0L173.6 198.0" stroke="#2e2e2e" stroke-width="0.83" fill="none"/>
<path d="M181.6 198.0L186.6 198.0" stroke="#2e2e2e" stroke-width="0.83" fill="none"/>
<path d="M177.6 189.0L177.6 194.0" stroke="#2e2e2e" stroke-width="0.83" fill="none"/>
<path d="M177.6 202.0L177.6 207.0" stroke="#2e2e2e" stroke-width="0.83" fill="none"/>
<path d="M175.6 198.0L179.6 198.0" stroke="#2e2e2e" stroke-width="0.83" fill="none"/>
<path d="M177.6 196.0L177.6 200.0" stroke="#2e2e2e" stroke-width="0.83" fill="none"/>
<circle cx="177.6" cy="216.8" r="5.4" stroke="#2e2e2e" stroke-width="1.0" fill="none"/>
<circle cx="177.6" cy="216.8" r="3.0" stroke="#2e2e2e" stroke-width="1.0" fill="none"/>
<path d="M168.6 216.8L173.6 216.8" stroke="#2e2e2e" stroke-width="0.83" fill="none"/>
<path d="M181.6 216.8L186.6 216.8" stroke="#2e2e2e" stroke-width="0.83" fill="none"/>
<path d="M177.6 207.8L177.6 212.8" stroke="#2e2e2e" stroke-width="0.83" fill="none"/>
<path d="M177.6 220.8L177.6 225.8" stroke="#2e2e2e" stroke-width="0.83" fill="none"/>
<path d="M175.6 216.8L179.6 216.8" stroke="#2e2e2e" stroke-width="0.83" fill="none"/>
<path d="M177.6 214.8L177.6 218.8" stroke="#2e2e2e" stroke-width="0.83" fill="none"/>
<rect x="137.6" y="221.5" width="70.4" height="6.5" rx="0" stroke="#2e2e2e" stroke-width="1.0" fill="none"/>
<path d="M110.5 91.2L222.9 91.2" stroke="#2e2e2e" stroke-width="1.0" fill="none"/>
<path d="M110.5 91.2L114.5 90.0L114.5 92.5Z" fill="#222"/>
<path d="M222.9 91.2L218.9 92.5L218.9 90.0Z" fill="#222"/>
<path d="M110.5 87.0L110.5 214.0" stroke="#2e2e2e" stroke-width="1.0" fill="none"/>
<path d="M222.9 87.0L222.9 183.0" stroke="#2e2e2e" stroke-width="1.0" fill="none"/>
<text transform="translate(161.00,88.00) scale(0.85,1)" font-size="12" text-anchor="middle">L</text>
<path d="M208.4 137.0L208.4 150.0" stroke="#2e2e2e" stroke-width="0.94" fill="none"/>
<path d="M208.4 141.7L222.9 141.7" stroke="#2e2e2e" stroke-width="1.0" fill="none"/>
<path d="M208.4 141.7L212.4 140.4L212.4 142.9Z" fill="#222"/>
<path d="M222.9 141.7L218.9 142.9L218.9 140.4Z" fill="#222"/>
<text transform="translate(214.5,138.5) scale(0.9,1)" font-size="11" text-anchor="middle">e<tspan font-size="7.3" dy="0.5">2</tspan></text>
<path d="M93.7 179.7L93.7 228.0" stroke="#2e2e2e" stroke-width="1.0" fill="none"/>
<path d="M93.7 179.7L95.0 183.7L92.5 183.7Z" fill="#222"/>
<path d="M93.7 228.0L92.5 224.0L95.0 224.0Z" fill="#222"/>
<path d="M89.0 228.0L143.0 228.0" stroke="#2e2e2e" stroke-width="1.0" fill="none"/>
<text transform="translate(92.0,205.0) rotate(-90) scale(0.85,1)" font-size="12" text-anchor="middle">H<tspan font-size="9.6" dy="0.5">o</tspan></text>
<path d="M110.5 211.4L128.3 211.4" stroke="#2e2e2e" stroke-width="1.0" fill="none"/>
<path d="M110.5 211.4L114.5 210.2L114.5 212.7Z" fill="#222"/>
<path d="M128.3 211.4L124.3 212.7L124.3 210.2Z" fill="#222"/>
<path d="M128.3 211.4L142.0 211.4" stroke="#2e2e2e" stroke-width="1.0" fill="none"/>
<path d="M128.3 211.4L132.3 210.2L132.3 212.7Z" fill="#222"/>
<path d="M142.0 211.4L138.0 212.7L138.0 210.2Z" fill="#222"/>
<path d="M128.3 195.0L128.3 214.0" stroke="#2e2e2e" stroke-width="0.83" fill="none"/>
<path d="M142.0 205.0L142.0 214.0" stroke="#2e2e2e" stroke-width="0.83" fill="none"/>
<text transform="translate(117.5,208.5) scale(0.9,1)" font-size="11" text-anchor="middle">e<tspan font-size="7.3" dy="0.5">1</tspan></text>
<text transform="translate(136.0,208.5) scale(0.8,1)" font-size="11" text-anchor="middle">A<tspan font-size="7.3" dy="0.5">1</tspan></text>
<path d="M122.0 221.5L137.6 221.5" stroke="#2e2e2e" stroke-width="0.83" fill="none"/>
<path d="M127.2 221.5L126.0 218.5L128.4 218.5Z" fill="#222"/>
<path d="M127.2 228.0L128.4 231.0L126.0 231.0Z" fill="#222"/>
<path d="M127.2 217.0L127.2 232.0" stroke="#2e2e2e" stroke-width="0.83" fill="none"/>
<text transform="translate(122.50,225.50) rotate(-90) scale(0.9,1)" font-size="10" text-anchor="middle">h</text>
<path d="M144.5 228.0L144.5 247.0" stroke="#2e2e2e" stroke-width="0.94" fill="none"/>
<path d="M199.3 228.0L199.3 247.0" stroke="#2e2e2e" stroke-width="0.94" fill="none"/>
<path d="M144.5 244.2L199.3 244.2" stroke="#2e2e2e" stroke-width="1.0" fill="none"/>
<path d="M144.5 244.2L148.5 242.9L148.5 245.4Z" fill="#222"/>
<path d="M199.3 244.2L195.3 245.4L195.3 242.9Z" fill="#222"/>
<text transform="translate(171.6,242.5) scale(0.85,1)" font-size="12" text-anchor="middle">A<tspan font-size="9.6" dy="0.5">o</tspan></text>
<path d="M138.5 228.0L138.5 260.0" stroke="#2e2e2e" stroke-width="0.94" fill="none"/>
<path d="M207.7 228.0L207.7 260.0" stroke="#2e2e2e" stroke-width="0.94" fill="none"/>
<path d="M138.5 257.2L207.7 257.2" stroke="#2e2e2e" stroke-width="1.0" fill="none"/>
<path d="M138.5 257.2L142.5 255.9L142.5 258.4Z" fill="#222"/>
<path d="M207.7 257.2L203.7 258.4L203.7 255.9Z" fill="#222"/>
<text transform="translate(171.00,255.70) scale(0.85,1)" font-size="12" text-anchor="middle">A</text>
<text transform="translate(160.50,278.60)" font-size="9.2" text-anchor="middle" letter-spacing="1.3" stroke="#1e1e1e" stroke-width="0.1" dx="0.65">MBW</text>
<path d="M355.5 97.0L355.5 150.0" stroke="#2e2e2e" stroke-width="1.06" fill="none" stroke-dasharray="11 3"/>
<path d="M327.0 126.7L386.0 126.7" stroke="#2e2e2e" stroke-width="1.06" fill="none" stroke-dasharray="11 3"/>
<circle cx="355.5" cy="126.7" r="23.5" stroke="#2e2e2e" stroke-width="1.1" fill="none"/>
<circle cx="355.5" cy="126.7" r="18.9" stroke="#2e2e2e" stroke-width="1.0" fill="none"/>
<circle cx="355.5" cy="126.7" r="17.1" stroke="#2e2e2e" stroke-width="0.94" fill="none"/>
<circle cx="355.5" cy="126.7" r="7.5" stroke="#2e2e2e" stroke-width="1.0" fill="none"/>
<path d="M352.5 126.7L358.5 126.7" stroke="#2e2e2e" stroke-width="0.83" fill="none"/>
<path d="M355.5 123.7L355.5 129.7" stroke="#2e2e2e" stroke-width="0.83" fill="none"/>
<path d="M346.4 120.3A11.1 11.1 0 0 1 364.6 120.3" stroke="#2e2e2e" stroke-width="0.94" fill="none" stroke-linejoin="round"/>
<path d="M345.6 121.5L346.4 117.7L348.9 119.4Z" fill="#222"/>
<path d="M365.4 121.5L362.1 119.4L364.6 117.7Z" fill="#222"/>
<path d="M325.2 138.0L325.2 220.9" stroke="#2e2e2e" stroke-width="1.0" fill="none"/>
<path d="M330.0 142.0L330.0 220.9" stroke="#2e2e2e" stroke-width="1.0" fill="none"/>
<path d="M372.6 138.0L372.6 220.9" stroke="#2e2e2e" stroke-width="1.0" fill="none"/>
<path d="M377.0 136.0L377.0 220.9" stroke="#2e2e2e" stroke-width="1.0" fill="none"/>
<path d="M336.0 183.0V154.0Q336.0 150.0 340.0 150.0H365.0Q369.0 150.0 369.0 154.0V183.0" stroke="#2e2e2e" stroke-width="1.0" fill="none" stroke-linejoin="round"/>
<rect x="338.5" y="154.0" width="28.0" height="2.4" rx="1.2" stroke="#2e2e2e" stroke-width="0.7" fill="none"/>
<rect x="338.5" y="158.8" width="28.0" height="2.4" rx="1.2" stroke="#2e2e2e" stroke-width="0.7" fill="none"/>
<rect x="338.5" y="163.7" width="28.0" height="2.4" rx="1.2" stroke="#2e2e2e" stroke-width="0.7" fill="none"/>
<rect x="338.5" y="168.5" width="28.0" height="2.4" rx="1.2" stroke="#2e2e2e" stroke-width="0.7" fill="none"/>
<rect x="338.5" y="173.3" width="28.0" height="2.4" rx="1.2" stroke="#2e2e2e" stroke-width="0.7" fill="none"/>
<rect x="338.5" y="178.2" width="28.0" height="2.4" rx="1.2" stroke="#2e2e2e" stroke-width="0.7" fill="none"/>
<path d="M273.0 178.9L390.0 178.9" stroke="#2e2e2e" stroke-width="0.83" fill="none" stroke-dasharray="16 2 2 2"/>
<rect x="290.5" y="172.8" width="15.5" height="11.9" rx="0" stroke="#2e2e2e" stroke-width="1.0" fill="#d8d8d8"/>
<path d="M290.5 176.0L306.0 176.0" stroke="#2e2e2e" stroke-width="0.71" fill="none"/>
<rect x="307.6" y="163.0" width="6.1" height="31.5" rx="0" stroke="#2e2e2e" stroke-width="1.0" fill="none"/>
<path d="M313.7 166.0L325.2 148.0M313.7 192.0L325.2 210.0" stroke="#2e2e2e" stroke-width="1.0" fill="none" stroke-linejoin="round"/>
<path d="M313.7 169.7L325.2 156.9" stroke="#2e2e2e" stroke-width="0.71" fill="none"/>
<path d="M313.7 173.4L325.2 165.7" stroke="#2e2e2e" stroke-width="0.71" fill="none"/>
<path d="M313.7 177.1L325.2 174.6" stroke="#2e2e2e" stroke-width="0.71" fill="none"/>
<path d="M313.7 180.9L325.2 183.4" stroke="#2e2e2e" stroke-width="0.71" fill="none"/>
<path d="M313.7 184.6L325.2 192.3" stroke="#2e2e2e" stroke-width="0.71" fill="none"/>
<path d="M313.7 188.3L325.2 201.1" stroke="#2e2e2e" stroke-width="0.71" fill="none"/>
<rect x="315.0" y="176.0" width="9.5" height="6.0" rx="0" stroke="#2e2e2e" stroke-width="0.71" fill="#999"/>
<path d="M298.0 164.0L298.0 168.0" stroke="#2e2e2e" stroke-width="0.83" fill="none"/>
<path d="M298.0 188.0L298.0 192.0" stroke="#2e2e2e" stroke-width="0.83" fill="none"/>
<circle cx="355.9" cy="197.7" r="5.4" stroke="#2e2e2e" stroke-width="1.0" fill="none"/>
<circle cx="355.9" cy="197.7" r="3.0" stroke="#2e2e2e" stroke-width="1.0" fill="none"/>
<path d="M346.9 197.7L351.9 197.7" stroke="#2e2e2e" stroke-width="0.83" fill="none"/>
<path d="M359.9 197.7L364.9 197.7" stroke="#2e2e2e" stroke-width="0.83" fill="none"/>
<path d="M355.9 188.7L355.9 193.7" stroke="#2e2e2e" stroke-width="0.83" fill="none"/>
<path d="M355.9 201.7L355.9 206.7" stroke="#2e2e2e" stroke-width="0.83" fill="none"/>
<path d="M353.9 197.7L357.9 197.7" stroke="#2e2e2e" stroke-width="0.83" fill="none"/>
<path d="M355.9 195.7L355.9 199.7" stroke="#2e2e2e" stroke-width="0.83" fill="none"/>
<circle cx="355.9" cy="216.5" r="5.4" stroke="#2e2e2e" stroke-width="1.0" fill="none"/>
<circle cx="355.9" cy="216.5" r="3.0" stroke="#2e2e2e" stroke-width="1.0" fill="none"/>
<path d="M346.9 216.5L351.9 216.5" stroke="#2e2e2e" stroke-width="0.83" fill="none"/>
<path d="M359.9 216.5L364.9 216.5" stroke="#2e2e2e" stroke-width="0.83" fill="none"/>
<path d="M355.9 207.5L355.9 212.5" stroke="#2e2e2e" stroke-width="0.83" fill="none"/>
<path d="M355.9 220.5L355.9 225.5" stroke="#2e2e2e" stroke-width="0.83" fill="none"/>
<path d="M353.9 216.5L357.9 216.5" stroke="#2e2e2e" stroke-width="0.83" fill="none"/>
<path d="M355.9 214.5L355.9 218.5" stroke="#2e2e2e" stroke-width="0.83" fill="none"/>
<rect x="316.3" y="220.9" width="70.3" height="7.1" rx="0" stroke="#2e2e2e" stroke-width="1.0" fill="none"/>
<rect x="377.0" y="140.0" width="7.5" height="77.0" rx="0" stroke="#2e2e2e" stroke-width="1.0" fill="none"/>
<path d="M384.5 152L391 146M384.5 206L391 212" stroke="#2e2e2e" stroke-width="1.0" fill="none" stroke-linejoin="round"/>
<rect x="391.0" y="144.7" width="97.8" height="68.6" rx="5" stroke="#2e2e2e" stroke-width="1.0" fill="none"/>
<path d="M454.4 144.7L454.4 213.3" stroke="#2e2e2e" stroke-width="1.0" fill="none"/>
<rect x="413.7" y="168.0" width="21.3" height="21.0" rx="0" stroke="#2e2e2e" stroke-width="1.0" fill="none"/>
<path d="M397.5 178.2L498.0 178.2" stroke="#2e2e2e" stroke-width="0.83" fill="none" stroke-dasharray="16 4 2 4"/>
<rect x="378.5" y="149.0" width="4.5" height="8.0" rx="0" stroke="#2e2e2e" stroke-width="0.83" fill="none"/>
<rect x="378.5" y="203.0" width="4.5" height="8.0" rx="0" stroke="#2e2e2e" stroke-width="0.83" fill="none"/>
<path d="M287.7 91.0L372.6 91.0" stroke="#2e2e2e" stroke-width="1.0" fill="none"/>
<path d="M287.7 91.0L291.7 89.8L291.7 92.2Z" fill="#222"/>
<path d="M372.6 91.0L368.6 92.2L368.6 89.8Z" fill="#222"/>
<path d="M372.6 91.0L487.3 91.0" stroke="#2e2e2e" stroke-width="1.0" fill="none"/>
<path d="M372.6 91.0L376.6 89.8L376.6 92.2Z" fill="#222"/>
<path d="M487.3 91.0L483.3 92.2L483.3 89.8Z" fill="#222"/>
<path d="M287.7 80.0L287.7 215.5" stroke="#2e2e2e" stroke-width="1.0" fill="none"/>
<path d="M372.6 80.0L372.6 138.0" stroke="#2e2e2e" stroke-width="1.0" fill="none"/>
<path d="M487.3 82.0L487.3 144.7" stroke="#2e2e2e" stroke-width="1.0" fill="none"/>
<text transform="translate(335.00,86.80)" font-size="14" text-anchor="middle" font-family="'Liberation Serif',serif">L</text>
<text transform="translate(342.60,87.20)" font-size="9.5" text-anchor="middle" font-weight="bold" font-family="'Liberation Serif',serif">1</text>
<text transform="translate(429.30,86.80)" font-size="14" text-anchor="middle" font-family="'Liberation Serif',serif">L</text>
<text transform="translate(437.30,87.20)" font-size="9.5" text-anchor="middle" font-weight="bold" font-family="'Liberation Serif',serif">2</text>
<path d="M278.0 179.0L278.0 228.0" stroke="#2e2e2e" stroke-width="1.0" fill="none"/>
<path d="M278.0 179.0L279.2 183.0L276.8 183.0Z" fill="#222"/>
<path d="M278.0 228.0L276.8 224.0L279.2 224.0Z" fill="#222"/>
<path d="M273.7 228.0L316.0 228.0" stroke="#2e2e2e" stroke-width="1.0" fill="none"/>
<text transform="translate(273.5,203.0) rotate(-90) scale(0.85,1)" font-size="12" text-anchor="middle">H<tspan font-size="9.6" dy="0.5">o</tspan></text>
<path d="M290.5 212.9L306.0 212.9" stroke="#2e2e2e" stroke-width="1.0" fill="none"/>
<path d="M290.5 212.9L294.5 211.7L294.5 214.2Z" fill="#222"/>
<path d="M306.0 212.9L302.0 214.2L302.0 211.7Z" fill="#222"/>
<path d="M306.0 212.9L320.8 212.9" stroke="#2e2e2e" stroke-width="1.0" fill="none"/>
<path d="M306.0 212.9L310.0 211.7L310.0 214.2Z" fill="#222"/>
<path d="M320.8 212.9L316.8 214.2L316.8 211.7Z" fill="#222"/>
<path d="M306.0 194.5L306.0 215.0" stroke="#2e2e2e" stroke-width="0.83" fill="none"/>
<path d="M320.8 205.0L320.8 215.0" stroke="#2e2e2e" stroke-width="0.83" fill="none"/>
<text transform="translate(296.0,209.5) scale(0.9,1)" font-size="11" text-anchor="middle">e<tspan font-size="7.3" dy="0.5">1</tspan></text>
<text transform="translate(313.7,209.5) scale(0.8,1)" font-size="11" text-anchor="middle">A<tspan font-size="7.3" dy="0.5">1</tspan></text>
<path d="M300.0 220.9L316.3 220.9" stroke="#2e2e2e" stroke-width="0.83" fill="none"/>
<path d="M307.2 220.9L305.9 217.9L308.4 217.9Z" fill="#222"/>
<path d="M307.2 228.0L308.4 231.0L305.9 231.0Z" fill="#222"/>
<path d="M307.2 216.0L307.2 232.0" stroke="#2e2e2e" stroke-width="0.83" fill="none"/>
<text transform="translate(300.50,225.00) rotate(-90) scale(0.9,1)" font-size="10" text-anchor="middle">h</text>
<path d="M322.4 228.0L322.4 246.0" stroke="#2e2e2e" stroke-width="0.94" fill="none"/>
<path d="M378.6 228.0L378.6 246.0" stroke="#2e2e2e" stroke-width="0.94" fill="none"/>
<path d="M322.4 243.2L378.6 243.2" stroke="#2e2e2e" stroke-width="1.0" fill="none"/>
<path d="M322.4 243.2L326.4 241.9L326.4 244.4Z" fill="#222"/>
<path d="M378.6 243.2L374.6 244.4L374.6 241.9Z" fill="#222"/>
<text transform="translate(350.5,241.7) scale(0.85,1)" font-size="12" text-anchor="middle">A<tspan font-size="9.6" dy="0.5">o</tspan></text>
<path d="M316.3 228.0L316.3 260.0" stroke="#2e2e2e" stroke-width="0.94" fill="none"/>
<path d="M386.6 228.0L386.6 260.0" stroke="#2e2e2e" stroke-width="0.94" fill="none"/>
<path d="M316.3 256.6L386.6 256.6" stroke="#2e2e2e" stroke-width="1.0" fill="none"/>
<path d="M316.3 256.6L320.3 255.4L320.3 257.9Z" fill="#222"/>
<path d="M386.6 256.6L382.6 257.9L382.6 255.4Z" fill="#222"/>
<text transform="translate(348.30,255.00) scale(0.85,1)" font-size="12" text-anchor="middle">A</text>
<text transform="translate(375.50,278.60)" font-size="9.2" text-anchor="middle" letter-spacing="0.6" stroke="#1e1e1e" stroke-width="0.1" dx="0.30">MBW-Y</text>
<path d="M556.8 88.8L651.3 88.8" stroke="#2e2e2e" stroke-width="1.0" fill="none"/>
<path d="M556.8 88.8L560.8 87.5L560.8 90.0Z" fill="#222"/>
<path d="M651.3 88.8L647.3 90.0L647.3 87.5Z" fill="#222"/>
<path d="M556.8 84.6L556.8 103.0" stroke="#2e2e2e" stroke-width="0.94" fill="none"/>
<path d="M651.3 84.6L651.3 103.0" stroke="#2e2e2e" stroke-width="0.94" fill="none"/>
<text transform="translate(606.00,86.00) scale(0.85,1)" font-size="12" text-anchor="middle">D</text>
<path d="M542.0 103.0L542.0 224.5" stroke="#2e2e2e" stroke-width="1.0" fill="none"/>
<path d="M542.0 103.0L543.2 107.0L540.8 107.0Z" fill="#222"/>
<path d="M542.0 224.5L540.8 220.5L543.2 220.5Z" fill="#222"/>
<path d="M538.0 103.0L557.0 103.0" stroke="#2e2e2e" stroke-width="0.94" fill="none"/>
<path d="M533.5 224.5L557.0 224.5" stroke="#2e2e2e" stroke-width="0.94" fill="none"/>
<text transform="translate(538.50,164.40) rotate(-90) scale(0.85,1)" font-size="12" text-anchor="middle">H</text>
<rect x="556.8" y="103.0" width="4.9" height="45.4" rx="0" stroke="#2e2e2e" stroke-width="1.0" fill="none"/>
<rect x="645.1" y="103.0" width="6.2" height="45.4" rx="0" stroke="#2e2e2e" stroke-width="1.0" fill="none"/>
<path d="M561.7 111Q566 118 573 121V128Q566 131 561.7 138" stroke="#2e2e2e" stroke-width="1.0" fill="none" stroke-linejoin="round"/>
<path d="M645.1 111Q641 118 634 121V128Q641 131 645.1 138" stroke="#2e2e2e" stroke-width="1.0" fill="none" stroke-linejoin="round"/>
<path d="M553.0 124.6L655.0 124.6" stroke="#2e2e2e" stroke-width="0.83" fill="none" stroke-dasharray="12 2 2 2"/>
<rect x="578.9" y="115.3" width="56.4" height="17.2" rx="0" stroke="#2e2e2e" stroke-width="1.0" fill="none"/>
<rect x="573.0" y="121.5" width="6.0" height="6.0" rx="0" stroke="#2e2e2e" stroke-width="0.83" fill="none"/>
<rect x="581.0" y="114.0" width="6.0" height="7.0" rx="0" stroke="#2e2e2e" stroke-width="0.83" fill="none"/>
<rect x="613.0" y="105.5" width="12.5" height="9.8" rx="0" stroke="#2e2e2e" stroke-width="1.0" fill="none"/>
<rect x="616.0" y="100.0" width="6.0" height="5.5" rx="0" stroke="#2e2e2e" stroke-width="0.83" fill="none"/>
<path d="M619.0 96.0L619.0 100.0" stroke="#2e2e2e" stroke-width="0.83" fill="none"/>
<path d="M621 115.3V121H628V127H634" stroke="#2e2e2e" stroke-width="0.94" fill="none" stroke-linejoin="round"/>
<rect x="628.0" y="120.0" width="6.0" height="10.0" rx="0" stroke="#2e2e2e" stroke-width="0.83" fill="none"/>
<circle cx="603.4" cy="177.4" r="44.2" stroke="#2e2e2e" stroke-width="1.0" fill="none"/>
<circle cx="603.4" cy="177.4" r="41.5" stroke="#2e2e2e" stroke-width="0.83" fill="none"/>
<circle cx="603.4" cy="177.4" r="28.2" stroke="#2e2e2e" stroke-width="1.0" fill="none"/>
<circle cx="603.4" cy="177.4" r="13.5" stroke="#2e2e2e" stroke-width="1.0" fill="none"/>
<circle cx="603.4" cy="177.4" r="9.5" stroke="#2e2e2e" stroke-width="1.0" fill="none"/>
<circle cx="603.4" cy="177.4" r="6.0" stroke="#2e2e2e" stroke-width="1.0" fill="none"/>
<circle cx="603.4" cy="177.4" r="3.0" stroke="#2e2e2e" stroke-width="1.0" fill="none"/>
<path d="M617.7 179.6L630.3 182.9" stroke="#2e2e2e" stroke-width="0.83" fill="none"/>
<path d="M616.9 182.6L629.5 186.1" stroke="#2e2e2e" stroke-width="0.83" fill="none"/>
<path d="M614.7 186.5L624.0 195.6" stroke="#2e2e2e" stroke-width="0.83" fill="none"/>
<path d="M612.5 188.7L621.6 198.0" stroke="#2e2e2e" stroke-width="0.83" fill="none"/>
<path d="M608.6 190.9L612.1 203.5" stroke="#2e2e2e" stroke-width="0.83" fill="none"/>
<path d="M605.6 191.7L608.9 204.3" stroke="#2e2e2e" stroke-width="0.83" fill="none"/>
<path d="M601.2 191.7L597.9 204.3" stroke="#2e2e2e" stroke-width="0.83" fill="none"/>
<path d="M598.2 190.9L594.7 203.5" stroke="#2e2e2e" stroke-width="0.83" fill="none"/>
<path d="M594.3 188.7L585.2 198.0" stroke="#2e2e2e" stroke-width="0.83" fill="none"/>
<path d="M592.1 186.5L582.8 195.6" stroke="#2e2e2e" stroke-width="0.83" fill="none"/>
<path d="M589.9 182.6L577.3 186.1" stroke="#2e2e2e" stroke-width="0.83" fill="none"/>
<path d="M589.1 179.6L576.5 182.9" stroke="#2e2e2e" stroke-width="0.83" fill="none"/>
<path d="M589.1 175.2L576.5 171.9" stroke="#2e2e2e" stroke-width="0.83" fill="none"/>
<path d="M589.9 172.2L577.3 168.7" stroke="#2e2e2e" stroke-width="0.83" fill="none"/>
<path d="M592.1 168.3L582.8 159.2" stroke="#2e2e2e" stroke-width="0.83" fill="none"/>
<path d="M594.3 166.1L585.2 156.8" stroke="#2e2e2e" stroke-width="0.83" fill="none"/>
<path d="M598.2 163.9L594.7 151.3" stroke="#2e2e2e" stroke-width="0.83" fill="none"/>
<path d="M601.2 163.1L597.9 150.5" stroke="#2e2e2e" stroke-width="0.83" fill="none"/>
<path d="M605.6 163.1L608.9 150.5" stroke="#2e2e2e" stroke-width="0.83" fill="none"/>
<path d="M608.6 163.9L612.1 151.3" stroke="#2e2e2e" stroke-width="0.83" fill="none"/>
<path d="M612.5 166.1L621.6 156.8" stroke="#2e2e2e" stroke-width="0.83" fill="none"/>
<path d="M614.7 168.3L624.0 159.2" stroke="#2e2e2e" stroke-width="0.83" fill="none"/>
<path d="M616.9 172.2L629.5 168.7" stroke="#2e2e2e" stroke-width="0.83" fill="none"/>
<path d="M617.7 175.2L630.3 171.9" stroke="#2e2e2e" stroke-width="0.83" fill="none"/>
<circle cx="603.4" cy="177.4" r="35.0" stroke="#2e2e2e" stroke-width="0.71" fill="none" stroke-dasharray="9 5"/>
<circle cx="583.3" cy="144.7" r="3.6" stroke="#2e2e2e" stroke-width="1.2" fill="#9a9a9a"/>
<path d="M580.8 142.2L585.8 147.2" stroke="#2e2e2e" stroke-width="0.94" fill="none"/>
<circle cx="622.5" cy="144.7" r="3.6" stroke="#2e2e2e" stroke-width="1.2" fill="#9a9a9a"/>
<path d="M620.0 142.2L625.0 147.2" stroke="#2e2e2e" stroke-width="0.94" fill="none"/>
<circle cx="564.2" cy="177.9" r="3.6" stroke="#2e2e2e" stroke-width="1.2" fill="#9a9a9a"/>
<path d="M561.7 175.4L566.7 180.4" stroke="#2e2e2e" stroke-width="0.94" fill="none"/>
<circle cx="641.4" cy="177.9" r="3.6" stroke="#2e2e2e" stroke-width="1.2" fill="#9a9a9a"/>
<path d="M638.9 175.4L643.9 180.4" stroke="#2e2e2e" stroke-width="0.94" fill="none"/>
<circle cx="583.3" cy="209.7" r="3.6" stroke="#2e2e2e" stroke-width="1.2" fill="#9a9a9a"/>
<path d="M580.8 207.2L585.8 212.2" stroke="#2e2e2e" stroke-width="0.94" fill="none"/>
<circle cx="622.5" cy="209.7" r="3.6" stroke="#2e2e2e" stroke-width="1.2" fill="#9a9a9a"/>
<path d="M620.0 207.2L625.0 212.2" stroke="#2e2e2e" stroke-width="0.94" fill="none"/>
<path d="M603.4 101.8L603.4 235.0" stroke="#2e2e2e" stroke-width="0.83" fill="none" stroke-dasharray="14 2 2 2"/>
<path d="M549.4 177.4L657.4 177.4" stroke="#2e2e2e" stroke-width="0.83" fill="none" stroke-dasharray="14 2 2 2"/>
<circle cx="570.7" cy="209.0" r="0.8" fill="#555"/>
<circle cx="636.1" cy="145.8" r="0.8" fill="#555"/>
<circle cx="565.2" cy="202.2" r="0.8" fill="#555"/>
<circle cx="641.6" cy="152.6" r="0.8" fill="#555"/>
<circle cx="561.2" cy="194.4" r="0.8" fill="#555"/>
<circle cx="645.6" cy="160.4" r="0.8" fill="#555"/>
<circle cx="558.7" cy="186.1" r="0.8" fill="#555"/>
<circle cx="648.1" cy="168.7" r="0.8" fill="#555"/>
<circle cx="557.9" cy="177.4" r="0.8" fill="#555"/>
<circle cx="648.9" cy="177.4" r="0.8" fill="#555"/>
<circle cx="558.7" cy="168.7" r="0.8" fill="#555"/>
<circle cx="648.1" cy="186.1" r="0.8" fill="#555"/>
<circle cx="561.2" cy="160.4" r="0.8" fill="#555"/>
<circle cx="645.6" cy="194.4" r="0.8" fill="#555"/>
<circle cx="565.2" cy="152.6" r="0.8" fill="#555"/>
<circle cx="641.6" cy="202.2" r="0.8" fill="#555"/>
<circle cx="570.7" cy="145.8" r="0.8" fill="#555"/>
<circle cx="636.1" cy="209.0" r="0.8" fill="#555"/>
<rect x="556.8" y="219.0" width="18.4" height="18.8" rx="0" stroke="#2e2e2e" stroke-width="1.0" fill="none"/>
<path d="M564.2 219.0L564.2 251.0" stroke="#2e2e2e" stroke-width="0.94" fill="none"/>
<rect x="628.0" y="219.0" width="12.2" height="8.3" rx="0" stroke="#2e2e2e" stroke-width="1.0" fill="none"/>
<rect x="640.2" y="216.0" width="7.4" height="13.0" rx="0" stroke="#2e2e2e" stroke-width="1.0" fill="none"/>
<rect x="648.0" y="213.0" width="3.0" height="11.0" rx="0" stroke="#2e2e2e" stroke-width="0.83" fill="none"/>
<path d="M579.5 219V222.5A1.6 1.6 0 0 0 582.7 222.5V219" stroke="#2e2e2e" stroke-width="0.83" fill="none" stroke-linejoin="round"/>
<path d="M585.7 219V222.5A1.6 1.6 0 0 0 588.9 222.5V219" stroke="#2e2e2e" stroke-width="0.83" fill="none" stroke-linejoin="round"/>
<path d="M591.9 219V222.5A1.6 1.6 0 0 0 595.1 222.5V219" stroke="#2e2e2e" stroke-width="0.83" fill="none" stroke-linejoin="round"/>
<path d="M598.1 219V222.5A1.6 1.6 0 0 0 601.3 222.5V219" stroke="#2e2e2e" stroke-width="0.83" fill="none" stroke-linejoin="round"/>
<path d="M604.3 219V222.5A1.6 1.6 0 0 0 607.5 222.5V219" stroke="#2e2e2e" stroke-width="0.83" fill="none" stroke-linejoin="round"/>
<path d="M610.5 219V222.5A1.6 1.6 0 0 0 613.7 222.5V219" stroke="#2e2e2e" stroke-width="0.83" fill="none" stroke-linejoin="round"/>
<path d="M616.7 219V222.5A1.6 1.6 0 0 0 619.9 222.5V219" stroke="#2e2e2e" stroke-width="0.83" fill="none" stroke-linejoin="round"/>
<path d="M622.9 219V222.5A1.6 1.6 0 0 0 626.1 222.5V219" stroke="#2e2e2e" stroke-width="0.83" fill="none" stroke-linejoin="round"/>
<path d="M575.2 219.0L628.0 219.0" stroke="#2e2e2e" stroke-width="0.83" fill="none"/>
<text transform="translate(666.50,197.30) scale(0.85,1)" font-size="11" text-anchor="middle">n-d</text>
<text transform="translate(677.50,198.20) scale(0.9,1)" font-size="7" text-anchor="middle" font-weight="bold">0</text>
<path d="M656.0 199.4L680.0 199.4" stroke="#2e2e2e" stroke-width="0.94" fill="none"/>
<path d="M656.0 199.4L640.0 217.0" stroke="#2e2e2e" stroke-width="0.94" fill="none"/>
<text transform="translate(568.0,234.0) scale(0.85,1)" font-size="11" text-anchor="middle">B<tspan font-size="7.3" dy="0.5">1</tspan></text>
<path d="M564.2 237.1L575.2 237.1" stroke="#2e2e2e" stroke-width="0.94" fill="none"/>
<path d="M564.2 237.1L568.2 235.8L568.2 238.3Z" fill="#222"/>
<path d="M575.2 237.1L571.2 238.3L571.2 235.8Z" fill="#222"/>
<path d="M564.2 248.4L640.2 248.4" stroke="#2e2e2e" stroke-width="1.0" fill="none"/>
<path d="M564.2 248.4L568.2 247.2L568.2 249.7Z" fill="#222"/>
<path d="M640.2 248.4L636.2 249.7L636.2 247.2Z" fill="#222"/>
<text transform="translate(602.2,246.0) scale(0.85,1)" font-size="12" text-anchor="middle">B<tspan font-size="9.6" dy="0.5">o</tspan></text>
<path d="M556.8 259.9L647.6 259.9" stroke="#2e2e2e" stroke-width="1.0" fill="none"/>
<path d="M556.8 259.9L560.8 258.6L560.8 261.1Z" fill="#222"/>
<path d="M647.6 259.9L643.6 261.1L643.6 258.6Z" fill="#222"/>
<text transform="translate(600.50,258.20) scale(0.85,1)" font-size="12" text-anchor="middle">B</text>
<path d="M556.8 148.4L556.8 263.0" stroke="#2e2e2e" stroke-width="0.94" fill="none"/>
<path d="M640.2 229.0L640.2 251.0" stroke="#2e2e2e" stroke-width="0.94" fill="none"/>
<path d="M647.6 229.0L647.6 263.0" stroke="#2e2e2e" stroke-width="0.94" fill="none"/>
<text transform="translate(571.50,114.50) scale(0.85,1)" font-size="11" text-anchor="middle">2</text>
<text transform="translate(637.80,114.50) scale(0.85,1)" font-size="11" text-anchor="middle">1</text>
<path d="M178.8 585.0L178.8 640.0" stroke="#2e2e2e" stroke-width="0.83" fill="none"/>
<path d="M153.0 612.0L210.0 612.0" stroke="#2e2e2e" stroke-width="0.83" fill="none"/>
<circle cx="178.8" cy="612.0" r="23.0" stroke="#2e2e2e" stroke-width="1.0" fill="none"/>
<circle cx="178.8" cy="612.0" r="20.0" stroke="#2e2e2e" stroke-width="1.0" fill="none"/>
<circle cx="178.8" cy="612.0" r="17.5" stroke="#2e2e2e" stroke-width="0.71" fill="none"/>
<circle cx="178.8" cy="612.0" r="6.3" stroke="#2e2e2e" stroke-width="1.0" fill="none"/>
<path d="M176.3 612.0L181.3 612.0" stroke="#2e2e2e" stroke-width="0.83" fill="none"/>
<path d="M178.8 609.5L178.8 614.5" stroke="#2e2e2e" stroke-width="0.83" fill="none"/>
<path d="M156.2 620.0L156.2 700.0" stroke="#2e2e2e" stroke-width="1.0" fill="none"/>
<path d="M161.3 626.0L161.3 699.0" stroke="#2e2e2e" stroke-width="1.0" fill="none"/>
<path d="M202.4 626.0L202.4 699.0" stroke="#2e2e2e" stroke-width="1.0" fill="none"/>
<path d="M208.1 618.9L208.1 700.0" stroke="#2e2e2e" stroke-width="1.0" fill="none"/>
<path d="M201.0 618.9L208.1 618.9" stroke="#2e2e2e" stroke-width="1.0" fill="none"/>
<path d="M156.2 700Q157 706 163 706H201Q207 706 208.1 700" stroke="#2e2e2e" stroke-width="1.0" fill="none" stroke-linejoin="round"/>
<path d="M161.3 699Q162 703 166 703.5H198Q202 703 202.4 699" stroke="#2e2e2e" stroke-width="0.83" fill="none" stroke-linejoin="round"/>
<path d="M163.5 668.0V640.8Q163.5 636.8 167.5 636.8H194.5Q198.5 636.8 198.5 640.8V668.0" stroke="#2e2e2e" stroke-width="1.0" fill="none" stroke-linejoin="round"/>
<rect x="166.0" y="640.8" width="30.0" height="4.5" rx="2.3" stroke="#2e2e2e" stroke-width="0.7" fill="none"/>
<rect x="166.0" y="649.9" width="30.0" height="4.5" rx="2.3" stroke="#2e2e2e" stroke-width="0.7" fill="none"/>
<rect x="166.0" y="658.9" width="30.0" height="4.5" rx="2.3" stroke="#2e2e2e" stroke-width="0.7" fill="none"/>
<path d="M117.0 660.4L236.0 660.4" stroke="#2e2e2e" stroke-width="0.83" fill="none" stroke-dasharray="18 2 3 2"/>
<rect x="136.1" y="616.6" width="7.4" height="89.3" rx="0" stroke="#2e2e2e" stroke-width="1.0" fill="none"/>
<path d="M89.7 616.6L89.7 705.9" stroke="#2e2e2e" stroke-width="1.0" fill="none"/>
<path d="M89.7 616.6L91.0 620.6L88.5 620.6Z" fill="#222"/>
<path d="M89.7 705.9L88.5 701.9L91.0 701.9Z" fill="#222"/>
<path d="M87.5 616.6L143.5 616.6" stroke="#2e2e2e" stroke-width="0.94" fill="none"/>
<path d="M87.5 705.9L143.5 705.9" stroke="#2e2e2e" stroke-width="0.94" fill="none"/>
<path d="M100.8 625.8L100.8 697.8" stroke="#2e2e2e" stroke-width="1.0" fill="none"/>
<path d="M100.8 625.8L102.0 629.8L99.5 629.8Z" fill="#222"/>
<path d="M100.8 697.8L99.5 693.8L102.0 693.8Z" fill="#222"/>
<path d="M98.5 625.8L136.1 625.8" stroke="#2e2e2e" stroke-width="0.94" fill="none"/>
<path d="M98.5 697.8L136.1 697.8" stroke="#2e2e2e" stroke-width="0.94" fill="none"/>
<path d="M111.2 632.7L111.2 690.5" stroke="#2e2e2e" stroke-width="1.0" fill="none"/>
<path d="M111.2 632.7L112.5 636.7L110.0 636.7Z" fill="#222"/>
<path d="M111.2 690.5L110.0 686.5L112.5 686.5Z" fill="#222"/>
<path d="M109.0 632.7L136.1 632.7" stroke="#2e2e2e" stroke-width="0.94" fill="none"/>
<path d="M109.0 690.5L136.1 690.5" stroke="#2e2e2e" stroke-width="0.94" fill="none"/>
<text transform="translate(87.00,666.70) rotate(-90) scale(0.8,1)" font-size="10.5" text-anchor="middle">D</text>
<text transform="translate(98.3,665.5) rotate(-90) scale(0.8,1)" font-size="10.5" text-anchor="middle">D<tspan font-size="6.9" dy="0.5">1</tspan></text>
<text transform="translate(109.3,665.5) rotate(-90) scale(0.8,1)" font-size="10.5" text-anchor="middle">D<tspan font-size="6.9" dy="0.5">2</tspan></text>
<rect x="121.0" y="656.5" width="15.1" height="8.5" rx="0" stroke="#2e2e2e" stroke-width="1.0" fill="#ddd"/>
<path d="M121.0 658.5L136.1 658.5" stroke="#2e2e2e" stroke-width="0.71" fill="none"/>
<rect x="143.5" y="631.6" width="12.7" height="60.0" rx="0" stroke="#2e2e2e" stroke-width="1.0" fill="none"/>
<rect x="143.5" y="648.0" width="5.5" height="25.0" rx="0" stroke="#2e2e2e" stroke-width="0.83" fill="none"/>
<text transform="translate(127.5,675.5) scale(0.9,1)" font-size="10" text-anchor="middle">e<tspan font-size="6.6" dy="0.5">1</tspan></text>
<text transform="translate(124.60,717.50) scale(0.85,1)" font-size="11" text-anchor="middle">R</text>
<text transform="translate(130.80,726.80) scale(0.85,1)" font-size="11" text-anchor="middle">E</text>
<text transform="translate(153.90,725.50) scale(0.85,1)" font-size="11" text-anchor="middle">h</text>
<path d="M127.3 717.0L143.5 717.0" stroke="#2e2e2e" stroke-width="0.94" fill="none"/>
<path d="M143.5 717.0L140.5 718.2L140.5 715.8Z" fill="#222"/>
<path d="M136.1 717.0L133.1 718.2L133.1 715.8Z" fill="#222"/>
<path d="M119.7 728.1L137.7 728.1" stroke="#2e2e2e" stroke-width="1.0" fill="none"/>
<path d="M119.7 728.1L123.7 726.9L123.7 729.4Z" fill="#222"/>
<path d="M137.7 728.1L133.7 729.4L133.7 726.9Z" fill="#222"/>
<path d="M143.5 728.1L158.5 728.1" stroke="#2e2e2e" stroke-width="0.94" fill="none"/>
<path d="M143.5 728.1L146.5 726.9L146.5 729.4Z" fill="#222"/>
<path d="M136.1 705.9L136.1 731.0" stroke="#2e2e2e" stroke-width="0.83" fill="none"/>
<path d="M143.5 705.9L143.5 731.0" stroke="#2e2e2e" stroke-width="0.83" fill="none"/>
<path d="M119.7 576.2L231.9 576.2" stroke="#2e2e2e" stroke-width="1.0" fill="none"/>
<path d="M119.7 576.2L123.7 575.0L123.7 577.5Z" fill="#222"/>
<path d="M231.9 576.2L227.9 577.5L227.9 575.0Z" fill="#222"/>
<path d="M119.7 570.4L119.7 734.3" stroke="#2e2e2e" stroke-width="1.0" fill="none"/>
<path d="M231.9 570.0L231.9 722.8" stroke="#2e2e2e" stroke-width="1.0" fill="none"/>
<text transform="translate(167.70,573.20) scale(0.85,1)" font-size="12" text-anchor="middle">L</text>
<text transform="translate(224.5,714.8) scale(0.9,1)" font-size="11" text-anchor="middle">e<tspan font-size="7.3" dy="0.5">2</tspan></text>
<path d="M217.8 717.7L231.9 717.7" stroke="#2e2e2e" stroke-width="1.0" fill="none"/>
<path d="M217.8 717.7L221.8 716.5L221.8 719.0Z" fill="#222"/>
<path d="M231.9 717.7L227.9 719.0L227.9 716.5Z" fill="#222"/>
<path d="M217.8 665.0L217.8 722.0" stroke="#2e2e2e" stroke-width="0.94" fill="none"/>
<path d="M208.1 631.6Q214 634 215 642V681Q214 689 208.1 691.6" stroke="#2e2e2e" stroke-width="1.0" fill="none" stroke-linejoin="round"/>
<path d="M208.1 636Q211.5 638 212 644V679Q211.5 685 208.1 687" stroke="#2e2e2e" stroke-width="0.71" fill="none" stroke-linejoin="round"/>
<rect x="218.5" y="654.7" width="12.7" height="9.3" rx="1.5" stroke="#2e2e2e" stroke-width="1.0" fill="none"/>
<path d="M215.0 657.0L218.5 657.0" stroke="#2e2e2e" stroke-width="0.83" fill="none"/>
<path d="M215.0 662.0L218.5 662.0" stroke="#2e2e2e" stroke-width="0.83" fill="none"/>
<circle cx="185.5" cy="680.0" r="5.0" stroke="#2e2e2e" stroke-width="1.0" fill="none"/>
<circle cx="185.5" cy="680.0" r="2.8" stroke="#2e2e2e" stroke-width="1.0" fill="none"/>
<path d="M177.0 680.0L194.0 680.0" stroke="#2e2e2e" stroke-width="0.83" fill="none"/>
<path d="M185.5 671.5L185.5 688.5" stroke="#2e2e2e" stroke-width="0.83" fill="none"/>
<text transform="translate(143.50,751.60)" font-size="9.2" text-anchor="middle" letter-spacing="1.2" stroke="#1e1e1e" stroke-width="0.1" dx="0.60">MBL</text>
<path d="M370.4 585.0L370.4 640.0" stroke="#2e2e2e" stroke-width="0.83" fill="none"/>
<path d="M344.0 612.6L415.0 612.6" stroke="#2e2e2e" stroke-width="0.83" fill="none"/>
<circle cx="370.4" cy="612.6" r="22.6" stroke="#2e2e2e" stroke-width="1.0" fill="none"/>
<circle cx="370.4" cy="612.6" r="19.6" stroke="#2e2e2e" stroke-width="1.0" fill="none"/>
<circle cx="370.4" cy="612.6" r="17.2" stroke="#2e2e2e" stroke-width="0.71" fill="none"/>
<circle cx="370.4" cy="612.6" r="6.5" stroke="#2e2e2e" stroke-width="1.0" fill="none"/>
<path d="M367.9 612.6L372.9 612.6" stroke="#2e2e2e" stroke-width="0.83" fill="none"/>
<path d="M370.4 610.1L370.4 615.1" stroke="#2e2e2e" stroke-width="0.83" fill="none"/>
<path d="M347.8 620.0L347.8 700.0" stroke="#2e2e2e" stroke-width="1.0" fill="none"/>
<path d="M353.0 626.0L353.0 699.0" stroke="#2e2e2e" stroke-width="1.0" fill="none"/>
<path d="M395.2 626.0L395.2 699.0" stroke="#2e2e2e" stroke-width="1.0" fill="none"/>
<path d="M400.5 620.0L400.5 700.0" stroke="#2e2e2e" stroke-width="1.0" fill="none"/>
<path d="M347.8 700Q348.5 706 355 706H394Q400 706 400.5 700" stroke="#2e2e2e" stroke-width="1.0" fill="none" stroke-linejoin="round"/>
<path d="M356.0 668.0V640.8Q356.0 636.8 360.0 636.8H388.0Q392.0 636.8 392.0 640.8V668.0" stroke="#2e2e2e" stroke-width="1.0" fill="none" stroke-linejoin="round"/>
<rect x="358.5" y="640.8" width="31.0" height="4.5" rx="2.3" stroke="#2e2e2e" stroke-width="0.7" fill="none"/>
<rect x="358.5" y="649.9" width="31.0" height="4.5" rx="2.3" stroke="#2e2e2e" stroke-width="0.7" fill="none"/>
<rect x="358.5" y="658.9" width="31.0" height="4.5" rx="2.3" stroke="#2e2e2e" stroke-width="0.7" fill="none"/>
<path d="M308.0 660.9L523.0 660.9" stroke="#2e2e2e" stroke-width="0.83" fill="none" stroke-dasharray="40 3 3 3"/>
<rect x="329.3" y="616.6" width="7.0" height="89.4" rx="0" stroke="#2e2e2e" stroke-width="1.0" fill="none"/>
<path d="M278.0 616.6L278.0 706.0" stroke="#2e2e2e" stroke-width="1.0" fill="none"/>
<path d="M278.0 616.6L279.2 620.6L276.8 620.6Z" fill="#222"/>
<path d="M278.0 706.0L276.8 702.0L279.2 702.0Z" fill="#222"/>
<path d="M276.0 616.6L336.3 616.6" stroke="#2e2e2e" stroke-width="0.94" fill="none"/>
<path d="M276.0 706.0L336.3 706.0" stroke="#2e2e2e" stroke-width="0.94" fill="none"/>
<path d="M290.8 625.8L290.8 697.8" stroke="#2e2e2e" stroke-width="1.0" fill="none"/>
<path d="M290.8 625.8L292.1 629.8L289.6 629.8Z" fill="#222"/>
<path d="M290.8 697.8L289.6 693.8L292.1 693.8Z" fill="#222"/>
<path d="M288.5 625.8L329.3 625.8" stroke="#2e2e2e" stroke-width="0.94" fill="none"/>
<path d="M288.5 697.8L329.3 697.8" stroke="#2e2e2e" stroke-width="0.94" fill="none"/>
<path d="M301.9 632.7L301.9 690.5" stroke="#2e2e2e" stroke-width="1.0" fill="none"/>
<path d="M301.9 632.7L303.1 636.7L300.6 636.7Z" fill="#222"/>
<path d="M301.9 690.5L300.6 686.5L303.1 686.5Z" fill="#222"/>
<path d="M299.5 632.7L329.3 632.7" stroke="#2e2e2e" stroke-width="0.94" fill="none"/>
<path d="M299.5 690.5L329.3 690.5" stroke="#2e2e2e" stroke-width="0.94" fill="none"/>
<text transform="translate(275.90,656.80) rotate(-90) scale(0.8,1)" font-size="10.5" text-anchor="middle">D</text>
<text transform="translate(287.0,655.6) rotate(-90) scale(0.8,1)" font-size="10.5" text-anchor="middle">D<tspan font-size="6.9" dy="0.5">1</tspan></text>
<text transform="translate(299.0,655.6) rotate(-90) scale(0.8,1)" font-size="10.5" text-anchor="middle">D<tspan font-size="6.9" dy="0.5">2</tspan></text>
<rect x="310.4" y="655.8" width="18.9" height="9.9" rx="0" stroke="#2e2e2e" stroke-width="1.0" fill="#ddd"/>
<path d="M310.4 658.0L329.3 658.0" stroke="#2e2e2e" stroke-width="0.71" fill="none"/>
<rect x="336.3" y="631.6" width="11.5" height="60.0" rx="0" stroke="#2e2e2e" stroke-width="0.94" fill="none"/>
<path d="M329.3 650Q333 652 336.3 655.8V665.7Q333 670 329.3 671" stroke="#2e2e2e" stroke-width="0.94" fill="none" stroke-linejoin="round"/>
<text transform="translate(317.5,676.0) scale(0.9,1)" font-size="10" text-anchor="middle">e<tspan font-size="6.6" dy="0.5">1</tspan></text>
<text transform="translate(316.20,715.00) scale(0.85,1)" font-size="11" text-anchor="middle">R</text>
<text transform="translate(321.50,728.00) scale(0.85,1)" font-size="11" text-anchor="middle">E</text>
<text transform="translate(342.30,727.50) scale(0.85,1)" font-size="11" text-anchor="middle">h</text>
<path d="M321.0 718.0L336.3 718.0" stroke="#2e2e2e" stroke-width="0.94" fill="none"/>
<path d="M329.3 718.0L326.3 719.2L326.3 716.8Z" fill="#222"/>
<path d="M309.7 729.2L328.9 729.2" stroke="#2e2e2e" stroke-width="1.0" fill="none"/>
<path d="M309.7 729.2L313.7 728.0L313.7 730.5Z" fill="#222"/>
<path d="M328.9 729.2L324.9 730.5L324.9 728.0Z" fill="#222"/>
<path d="M336.3 729.2L348.0 729.2" stroke="#2e2e2e" stroke-width="0.94" fill="none"/>
<path d="M336.3 729.2L339.3 728.0L339.3 730.5Z" fill="#222"/>
<path d="M329.3 706.0L329.3 732.0" stroke="#2e2e2e" stroke-width="0.83" fill="none"/>
<path d="M336.3 706.0L336.3 732.0" stroke="#2e2e2e" stroke-width="0.83" fill="none"/>
<path d="M309.7 576.2L395.2 576.2" stroke="#2e2e2e" stroke-width="1.0" fill="none"/>
<path d="M309.7 576.2L313.7 575.0L313.7 577.5Z" fill="#222"/>
<path d="M395.2 576.2L391.2 577.5L391.2 575.0Z" fill="#222"/>
<path d="M395.7 576.2L510.5 576.2" stroke="#2e2e2e" stroke-width="1.0" fill="none"/>
<path d="M395.7 576.2L399.7 575.0L399.7 577.5Z" fill="#222"/>
<path d="M510.5 576.2L506.5 577.5L506.5 575.0Z" fill="#222"/>
<path d="M309.7 570.0L309.7 732.0" stroke="#2e2e2e" stroke-width="1.0" fill="none"/>
<path d="M395.2 570.0L395.2 626.0" stroke="#2e2e2e" stroke-width="1.0" fill="none"/>
<path d="M510.5 569.0L510.5 742.4" stroke="#2e2e2e" stroke-width="1.0" fill="none"/>
<text transform="translate(348.5,573.7) scale(0.85,1)" font-size="12" text-anchor="middle">L<tspan font-size="7.9" dy="0.5">1</tspan></text>
<text transform="translate(449.5,574.0) scale(0.85,1)" font-size="12" text-anchor="middle">L<tspan font-size="7.9" dy="0.5">2</tspan></text>
<path d="M353.0 706.0L353.0 740.0" stroke="#2e2e2e" stroke-width="0.94" fill="none"/>
<path d="M354.7 736.6L510.5 736.6" stroke="#2e2e2e" stroke-width="1.0" fill="none"/>
<path d="M354.7 736.6L358.7 735.4L358.7 737.9Z" fill="#222"/>
<path d="M510.5 736.6L506.5 737.9L506.5 735.4Z" fill="#222"/>
<text transform="translate(412.5,734.2) scale(0.85,1)" font-size="12" text-anchor="middle">L<tspan font-size="7.9" dy="0.5">3</tspan></text>
<circle cx="378.5" cy="679.6" r="5.0" stroke="#2e2e2e" stroke-width="1.0" fill="none"/>
<circle cx="378.5" cy="679.6" r="2.8" stroke="#2e2e2e" stroke-width="1.0" fill="none"/>
<path d="M370.0 679.6L387.0 679.6" stroke="#2e2e2e" stroke-width="0.83" fill="none"/>
<path d="M378.5 671.0L378.5 688.0" stroke="#2e2e2e" stroke-width="0.83" fill="none"/>
<path d="M400.5 622L407.2 634M400.5 700L407.2 690.5" stroke="#2e2e2e" stroke-width="1.0" fill="none" stroke-linejoin="round"/>
<rect x="407.2" y="633.9" width="7.4" height="56.6" rx="2" stroke="#2e2e2e" stroke-width="1.0" fill="none"/>
<rect x="414.6" y="629.3" width="96.5" height="66.5" rx="9" stroke="#2e2e2e" stroke-width="1.0" fill="none"/>
<path d="M475.8 629.3L475.8 695.8" stroke="#2e2e2e" stroke-width="1.0" fill="none"/>
<rect x="436.6" y="651.9" width="20.7" height="20.1" rx="0" stroke="#2e2e2e" stroke-width="1.0" fill="none"/>
<rect x="401.5" y="630.0" width="4.0" height="8.0" rx="0" stroke="#2e2e2e" stroke-width="0.83" fill="none"/>
<rect x="401.5" y="684.0" width="4.0" height="8.0" rx="0" stroke="#2e2e2e" stroke-width="0.83" fill="none"/>
<text transform="translate(382.00,752.00)" font-size="9.2" text-anchor="middle" letter-spacing="1.2" stroke="#1e1e1e" stroke-width="0.1" dx="0.60">MBL-Y</text>
<path d="M562.3 704V680M651.2 704V680" stroke="#2e2e2e" stroke-width="0.94" fill="none" stroke-linejoin="round"/>
<path d="M562.3 704.0L651.2 704.0" stroke="#2e2e2e" stroke-width="1.0" fill="none"/>
<circle cx="607.3" cy="661.2" r="48.5" stroke="#2e2e2e" stroke-width="1.0" fill="none"/>
<circle cx="607.3" cy="661.2" r="30.6" stroke="#2e2e2e" stroke-width="1.0" fill="none"/>
<circle cx="607.3" cy="661.2" r="27.5" stroke="#2e2e2e" stroke-width="1.0" fill="none"/>
<circle cx="607.3" cy="661.2" r="13.5" stroke="#2e2e2e" stroke-width="1.0" fill="none"/>
<circle cx="607.3" cy="661.2" r="11.0" stroke="#2e2e2e" stroke-width="1.06" fill="none"/>
<circle cx="607.3" cy="661.2" r="7.5" stroke="#2e2e2e" stroke-width="1.3" fill="none"/>
<circle cx="607.3" cy="661.2" r="4.0" stroke="#2e2e2e" stroke-width="1.2" fill="none"/>
<circle cx="607.3" cy="661.2" r="40.0" stroke="#2e2e2e" stroke-width="0.83" fill="none" stroke-dasharray="22 8"/>
<path d="M637.4 616.2L652 640M579 616.2L566 634" stroke="#2e2e2e" stroke-width="0.94" fill="none" stroke-linejoin="round"/>
<circle cx="579.6" cy="634.7" r="4.0" stroke="#2e2e2e" stroke-width="1.06" fill="none"/>
<path d="M577.4 637.5L581.8 631.9" stroke="#2e2e2e" stroke-width="0.83" fill="none"/>
<circle cx="635.1" cy="634.7" r="4.0" stroke="#2e2e2e" stroke-width="1.06" fill="none"/>
<path d="M632.9 637.5L637.3 631.9" stroke="#2e2e2e" stroke-width="0.83" fill="none"/>
<circle cx="579.6" cy="688.2" r="4.0" stroke="#2e2e2e" stroke-width="1.06" fill="none"/>
<path d="M577.4 691.0L581.8 685.4" stroke="#2e2e2e" stroke-width="0.83" fill="none"/>
<circle cx="635.1" cy="688.2" r="4.0" stroke="#2e2e2e" stroke-width="1.06" fill="none"/>
<path d="M632.9 691.0L637.3 685.4" stroke="#2e2e2e" stroke-width="0.83" fill="none"/>
<path d="M554.2 661.2L661.6 661.2" stroke="#2e2e2e" stroke-width="0.83" fill="none"/>
<path d="M607.3 581.5L607.3 710.8" stroke="#2e2e2e" stroke-width="0.83" fill="none"/>
<path d="M665.1 590.3L665.1 706.2" stroke="#2e2e2e" stroke-width="1.0" fill="none"/>
<path d="M665.1 590.3L666.4 594.3L663.9 594.3Z" fill="#222"/>
<path d="M665.1 706.2L663.9 702.2L666.4 702.2Z" fill="#222"/>
<path d="M645.0 590.3L668.0 590.3" stroke="#2e2e2e" stroke-width="0.94" fill="none"/>
<path d="M640.0 706.2L668.0 706.2" stroke="#2e2e2e" stroke-width="0.94" fill="none"/>
<text transform="translate(661.50,645.00) rotate(-90) scale(0.85,1)" font-size="11" text-anchor="middle">H</text>
<rect x="644.3" y="589.6" width="10.4" height="44.6" rx="1.5" stroke="#2e2e2e" stroke-width="1.0" fill="none"/>
<path d="M644.3 600Q640 606 637.4 608M644.3 624Q641 620 637.4 618" stroke="#2e2e2e" stroke-width="0.94" fill="none" stroke-linejoin="round"/>
<rect x="579.0" y="602.3" width="58.4" height="13.9" rx="0" stroke="#2e2e2e" stroke-width="1.0" fill="none"/>
<rect x="581.0" y="603.0" width="7.0" height="7.0" rx="0" stroke="#2e2e2e" stroke-width="0.83" fill="none"/>
<rect x="626.0" y="603.0" width="7.0" height="7.0" rx="0" stroke="#2e2e2e" stroke-width="0.83" fill="none"/>
<rect x="636.0" y="606.0" width="6.0" height="11.0" rx="0" stroke="#2e2e2e" stroke-width="0.83" fill="none"/>
<rect x="616.6" y="590.8" width="8.1" height="11.5" rx="0" stroke="#2e2e2e" stroke-width="1.0" fill="none"/>
<path d="M620.6 583.0L620.6 590.8" stroke="#2e2e2e" stroke-width="0.83" fill="none"/>
<path d="M579 616.2V622M637.4 616.2L646 628" stroke="#2e2e2e" stroke-width="0.94" fill="none" stroke-linejoin="round"/>
<text transform="translate(560.50,612.70) scale(0.85,1)" font-size="11" text-anchor="middle">n-do</text>
<path d="M550.3 615.0L572.7 615.0" stroke="#2e2e2e" stroke-width="0.94" fill="none"/>
<path d="M572.7 615.0L578.0 631.5" stroke="#2e2e2e" stroke-width="0.94" fill="none"/>
<path d="M572.0 704V706.5A1.2 1.2 0 0 0 574.4 706.5V704" stroke="#2e2e2e" stroke-width="0.83" fill="none" stroke-linejoin="round"/>
<path d="M622.0 704V706.5A1.2 1.2 0 0 0 624.4 706.5V704" stroke="#2e2e2e" stroke-width="0.83" fill="none" stroke-linejoin="round"/>
<path d="M576.5 704V706.5A1.2 1.2 0 0 0 578.9 706.5V704" stroke="#2e2e2e" stroke-width="0.83" fill="none" stroke-linejoin="round"/>
<path d="M626.5 704V706.5A1.2 1.2 0 0 0 628.9 706.5V704" stroke="#2e2e2e" stroke-width="0.83" fill="none" stroke-linejoin="round"/>
<path d="M581.0 704V706.5A1.2 1.2 0 0 0 583.4 706.5V704" stroke="#2e2e2e" stroke-width="0.83" fill="none" stroke-linejoin="round"/>
<path d="M631.0 704V706.5A1.2 1.2 0 0 0 633.4 706.5V704" stroke="#2e2e2e" stroke-width="0.83" fill="none" stroke-linejoin="round"/>
<path d="M585.5 704V706.5A1.2 1.2 0 0 0 587.9 706.5V704" stroke="#2e2e2e" stroke-width="0.83" fill="none" stroke-linejoin="round"/>
<path d="M635.5 704V706.5A1.2 1.2 0 0 0 637.9 706.5V704" stroke="#2e2e2e" stroke-width="0.83" fill="none" stroke-linejoin="round"/>
</svg>
</body></html>
